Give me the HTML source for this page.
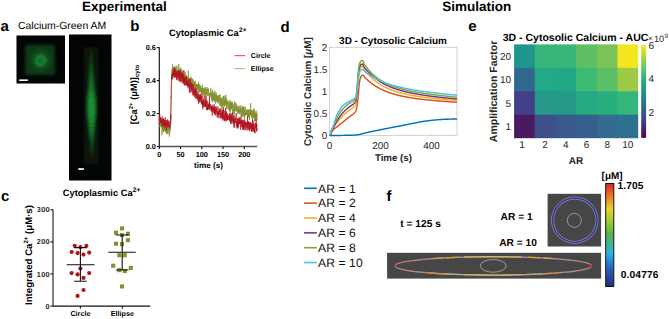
<!DOCTYPE html>
<html><head><meta charset="utf-8"><style>
html,body{margin:0;padding:0;background:#fff;width:669px;height:319px;overflow:hidden;}
svg{display:block;font-family:"Liberation Sans", sans-serif;text-rendering:geometricPrecision;}
</style></head><body>
<svg width="669" height="319" viewBox="0 0 669 319" font-family='&quot;Liberation Sans&quot;, sans-serif'><defs>
<filter id="blur1" x="-50%" y="-50%" width="200%" height="200%"><feGaussianBlur stdDeviation="1.5"/></filter>
<filter id="blur08" x="-50%" y="-50%" width="200%" height="200%"><feGaussianBlur stdDeviation="1"/></filter>
<filter id="grain" x="0" y="0" width="100%" height="100%"><feTurbulence type="fractalNoise" baseFrequency="0.9" numOctaves="1" seed="4" result="n"/><feColorMatrix in="n" type="matrix" values="0 0 0 0 0  0 0 0 0 0  0 0 0 0 0  0 0 0 2.2 -0.9" result="a"/><feComposite in="SourceGraphic" in2="a" operator="in"/></filter>
<filter id="blur2" x="-50%" y="-50%" width="200%" height="200%"><feGaussianBlur stdDeviation="2.5"/></filter>
</defs><text x="81.9" y="11.1" font-size="13.5" font-weight="bold" text-anchor="start" fill="#000" >Experimental</text>
<text x="442.2" y="11.1" font-size="13.5" font-weight="bold" text-anchor="start" fill="#000" >Simulation</text>
<text x="0.6" y="31" font-size="15" font-weight="bold" text-anchor="start" fill="#000" >a</text>
<text x="130.2" y="31" font-size="15" font-weight="bold" text-anchor="start" fill="#000" >b</text>
<text x="0.9" y="201.4" font-size="15" font-weight="bold" text-anchor="start" fill="#000" >c</text>
<text x="280.5" y="31.5" font-size="15" font-weight="bold" text-anchor="start" fill="#000" >d</text>
<text x="468.2" y="31" font-size="15" font-weight="bold" text-anchor="start" fill="#000" >e</text>
<text x="386.6" y="201" font-size="15" font-weight="bold" text-anchor="start" fill="#000" >f</text>
<text x="18.0" y="28.5" font-size="10.45" font-weight="normal" text-anchor="start" fill="#000" >Calcium-Green AM</text>
<rect x="16.5" y="35.5" width="48.5" height="48" fill="#030604"/>
<rect x="25" y="44.5" width="30" height="30.7" rx="3" fill="#0d3d18" filter="url(#blur1)"/>
<ellipse cx="40.5" cy="60" rx="10" ry="10.5" fill="#135421" filter="url(#blur2)"/>
<circle cx="40.6" cy="60.7" r="4.6" fill="#177230" stroke="#1d8a38" stroke-width="3" filter="url(#blur08)"/>
<rect x="16.5" y="35.5" width="48.5" height="48" fill="#000" opacity="0.35" filter="url(#grain)"/>
<rect x="19.2" y="79.4" width="8.6" height="1.6" fill="#fff"/>
<rect x="69" y="34.5" width="42.5" height="146" fill="#030604"/>
<rect x="84" y="47" width="14.5" height="117" fill="#07140a" filter="url(#blur1)"/>
<defs><linearGradient id="spg" x1="0" y1="0" x2="0" y2="1"><stop offset="0" stop-color="#0c3e16"/><stop offset="0.3" stop-color="#137026"/><stop offset="0.5" stop-color="#1a8e32"/><stop offset="0.68" stop-color="#178a2e"/><stop offset="0.85" stop-color="#0f5a1e"/><stop offset="1" stop-color="#0a3a12"/></linearGradient></defs>
<path d="M91,45 C92.3,65 95.4,90 95.6,108 C95.6,125 93.3,145 92,161 C90.5,145 87.6,125 87.4,108 C87.6,90 89.7,65 91,45 Z" fill="url(#spg)" filter="url(#blur1)"/>
<ellipse cx="91.6" cy="106" rx="3.2" ry="15" fill="#21a03e" opacity="0.7" filter="url(#blur2)"/>
<rect x="69" y="34.5" width="42.5" height="146" fill="#000" opacity="0.3" filter="url(#grain)"/>
<rect x="78.3" y="168.2" width="5.6" height="1.7" fill="#fff"/>
<text x="169.0" y="36" font-size="9.3" font-weight="bold" text-anchor="start" fill="#000" >Cytoplasmic Ca<tspan font-size="6.7" dy="-3.8" dx="0.3">2+</tspan></text>
<path d="M159.3,146.5 H257.3" stroke="#555" stroke-width="1.5" fill="none"/>
<path d="M159.3,47.30 V147.1" stroke="#111" stroke-width="1.15" fill="none"/>
<path d="M156.8,146.50 H159.3" stroke="#111" stroke-width="1.1"/>
<text x="155.9" y="149.1" font-size="7.35" font-weight="bold" text-anchor="end" fill="#000" >0.0</text>
<path d="M156.8,113.53 H159.3" stroke="#111" stroke-width="1.1"/>
<text x="155.9" y="116.13333333333333" font-size="7.35" font-weight="bold" text-anchor="end" fill="#000" >0.2</text>
<path d="M156.8,80.57 H159.3" stroke="#111" stroke-width="1.1"/>
<text x="155.9" y="83.16666666666666" font-size="7.35" font-weight="bold" text-anchor="end" fill="#000" >0.4</text>
<path d="M156.8,47.60 H159.3" stroke="#111" stroke-width="1.1"/>
<text x="155.9" y="50.199999999999996" font-size="7.35" font-weight="bold" text-anchor="end" fill="#000" >0.6</text>
<path d="M159.30,146.5 V149.1" stroke="#111" stroke-width="1.1"/>
<text x="159.3" y="157.1" font-size="7.3" font-weight="bold" text-anchor="middle" fill="#000" >0</text>
<path d="M180.55,146.5 V149.1" stroke="#111" stroke-width="1.1"/>
<text x="180.55" y="157.1" font-size="7.3" font-weight="bold" text-anchor="middle" fill="#000" >50</text>
<path d="M201.80,146.5 V149.1" stroke="#111" stroke-width="1.1"/>
<text x="201.8" y="157.1" font-size="7.3" font-weight="bold" text-anchor="middle" fill="#000" >100</text>
<path d="M223.05,146.5 V149.1" stroke="#111" stroke-width="1.1"/>
<text x="223.05" y="157.1" font-size="7.3" font-weight="bold" text-anchor="middle" fill="#000" >150</text>
<path d="M244.30,146.5 V149.1" stroke="#111" stroke-width="1.1"/>
<text x="244.3" y="157.1" font-size="7.3" font-weight="bold" text-anchor="middle" fill="#000" >200</text>
<text x="208.5" y="167.8" font-size="8.15" font-weight="bold" text-anchor="middle" fill="#000" >time (s)</text>
<text transform="translate(136.6,94.5) rotate(-90)" font-size="9.3" font-weight="bold" text-anchor="middle">[Ca<tspan font-size="6" dy="-3.5">2+</tspan><tspan dy="3.5"> (μM)]</tspan><tspan font-size="6" dy="2.3">cyto</tspan></text>
<polyline points="159.30,120.52 159.41,118.98 159.51,120.95 159.62,127.05 159.73,119.22 159.83,121.06 159.94,124.80 160.04,120.91 160.15,121.86 160.26,122.28 160.36,123.40 160.47,121.67 160.58,126.47 160.68,124.54 160.79,125.84 160.89,122.06 161.00,124.23 161.11,125.57 161.21,127.48 161.32,125.70 161.43,124.86 161.53,126.02 161.64,120.44 161.74,121.60 161.85,135.20 161.96,132.33 162.06,126.22 162.17,127.22 162.28,125.02 162.38,125.11 162.49,118.31 162.59,130.12 162.70,127.55 162.81,118.86 162.91,124.01 163.02,124.04 163.12,128.39 163.23,132.58 163.34,126.08 163.44,126.36 163.55,131.28 163.66,129.38 163.76,127.23 163.87,130.46 163.98,127.46 164.08,126.82 164.19,127.10 164.29,129.12 164.40,125.19 164.51,124.16 164.61,126.28 164.72,130.46 164.83,124.89 164.93,129.41 165.04,124.45 165.14,131.57 165.25,124.40 165.36,127.83 165.46,132.33 165.57,128.97 165.68,127.67 165.78,126.91 165.89,131.50 165.99,131.98 166.10,127.27 166.21,129.71 166.31,127.19 166.42,125.32 166.53,134.07 166.63,127.19 166.74,123.70 166.84,129.24 166.95,131.12 167.06,125.47 167.16,127.29 167.27,124.98 167.38,129.49 167.48,133.63 167.59,128.66 167.69,129.89 167.80,125.48 167.91,127.59 168.01,134.22 168.12,132.65 168.23,125.12 168.33,125.86 168.44,130.66 168.54,128.34 168.65,126.73 168.76,126.65 168.86,125.17 168.97,127.43 169.08,128.70 169.18,129.30 169.29,124.53 169.39,136.53 169.50,128.87 169.61,128.25 169.71,133.54 169.82,127.16 169.93,130.73 170.03,125.24 170.14,128.82 170.24,125.94 170.35,124.75 170.46,126.04 170.56,126.52 170.67,123.58 170.78,107.93 170.88,106.87 170.99,101.82 171.09,92.90 171.20,88.23 171.31,80.72 171.41,80.47 171.52,78.92 171.62,79.61 171.73,74.76 171.84,78.05 171.94,72.01 172.05,68.68 172.16,77.17 172.26,79.64 172.37,70.31 172.48,64.41 172.58,74.78 172.69,75.37 172.79,69.78 172.90,73.89 173.01,72.78 173.11,72.21 173.22,69.50 173.33,72.19 173.43,70.09 173.54,71.38 173.64,73.30 173.75,71.70 173.86,73.54 173.96,70.68 174.07,74.02 174.18,73.92 174.28,66.36 174.39,70.84 174.49,70.85 174.60,69.19 174.71,71.97 174.81,71.41 174.92,69.50 175.03,69.94 175.13,74.25 175.24,68.36 175.34,72.62 175.45,74.03 175.56,73.61 175.66,72.13 175.77,66.19 175.88,74.54 175.98,70.62 176.09,77.49 176.19,71.19 176.30,68.57 176.41,71.99 176.51,73.21 176.62,70.70 176.73,69.36 176.83,69.53 176.94,65.70 177.04,70.98 177.15,73.42 177.26,72.09 177.36,71.99 177.47,71.51 177.58,71.97 177.68,71.42 177.79,76.95 177.89,69.59 178.00,73.81 178.11,75.64 178.21,70.33 178.32,68.36 178.43,70.86 178.53,71.90 178.64,75.20 178.74,63.97 178.85,69.93 178.96,75.99 179.06,74.98 179.17,72.47 179.28,77.40 179.38,72.35 179.49,74.28 179.59,69.35 179.70,70.20 179.81,81.16 179.91,73.06 180.02,78.06 180.12,70.04 180.23,72.90 180.34,71.85 180.44,76.71 180.55,68.20 180.66,67.71 180.76,76.93 180.87,72.75 180.98,75.93 181.08,74.08 181.19,77.84 181.29,68.63 181.40,77.12 181.51,75.21 181.61,72.92 181.72,76.41 181.83,75.28 181.93,76.33 182.04,75.14 182.14,78.30 182.25,76.21 182.36,75.61 182.46,76.07 182.57,74.99 182.68,76.12 182.78,73.10 182.89,76.38 182.99,75.91 183.10,77.56 183.21,77.24 183.31,79.51 183.42,74.31 183.53,79.32 183.63,78.23 183.74,75.04 183.84,74.99 183.95,77.46 184.06,82.35 184.16,75.19 184.27,75.76 184.38,80.80 184.48,74.41 184.59,78.86 184.69,80.20 184.80,76.66 184.91,77.56 185.01,76.51 185.12,81.95 185.23,71.89 185.33,79.14 185.44,82.00 185.54,75.68 185.65,78.65 185.76,76.71 185.86,78.77 185.97,78.02 186.08,77.19 186.18,80.22 186.29,76.08 186.39,79.57 186.50,80.84 186.61,78.11 186.71,77.10 186.82,79.19 186.93,81.15 187.03,76.84 187.14,83.99 187.24,81.91 187.35,78.82 187.46,83.06 187.56,79.02 187.67,79.36 187.78,76.61 187.88,82.08 187.99,81.31 188.09,78.55 188.20,86.92 188.31,70.52 188.41,81.88 188.52,82.06 188.62,77.42 188.73,80.18 188.84,85.43 188.94,78.38 189.05,77.79 189.16,81.76 189.26,81.34 189.37,79.16 189.48,83.38 189.58,79.47 189.69,80.27 189.79,82.96 189.90,85.17 190.01,81.80 190.11,83.82 190.22,78.34 190.33,80.97 190.43,79.17 190.54,81.18 190.64,80.89 190.75,84.08 190.86,79.87 190.96,76.64 191.07,82.95 191.18,83.88 191.28,82.68 191.39,83.73 191.49,84.47 191.60,82.07 191.71,83.43 191.81,78.39 191.92,82.75 192.03,81.88 192.13,80.10 192.24,83.91 192.34,78.84 192.45,85.07 192.56,85.68 192.66,84.46 192.77,83.80 192.88,87.71 192.98,83.75 193.09,88.68 193.19,79.69 193.30,84.15 193.41,85.90 193.51,86.78 193.62,85.32 193.73,84.93 193.83,87.45 193.94,87.17 194.04,85.08 194.15,86.16 194.26,81.92 194.36,81.42 194.47,84.83 194.58,83.56 194.68,89.02 194.79,83.25 194.89,85.32 195.00,83.88 195.11,80.65 195.21,92.25 195.32,84.80 195.43,88.92 195.53,83.99 195.64,89.73 195.74,87.38 195.85,85.40 195.96,84.26 196.06,85.95 196.17,88.60 196.28,87.98 196.38,83.80 196.49,86.52 196.59,91.58 196.70,84.17 196.81,85.52 196.91,84.24 197.02,87.91 197.12,84.54 197.23,90.23 197.34,85.47 197.44,88.70 197.55,85.32 197.66,84.42 197.76,89.66 197.87,87.71 197.98,87.52 198.08,84.19 198.19,85.69 198.29,91.49 198.40,86.59 198.51,85.82 198.61,81.80 198.72,93.16 198.83,89.85 198.93,84.38 199.04,92.43 199.14,92.04 199.25,87.02 199.36,85.61 199.46,90.69 199.57,87.18 199.68,88.50 199.78,84.42 199.89,89.00 199.99,86.13 200.10,91.82 200.21,89.76 200.31,89.57 200.42,85.97 200.53,87.70 200.63,91.72 200.74,87.53 200.84,87.34 200.95,90.03 201.06,90.53 201.16,90.41 201.27,94.93 201.38,89.41 201.48,89.34 201.59,92.67 201.69,87.97 201.80,94.31 201.91,91.94 202.01,91.78 202.12,84.54 202.23,95.25 202.33,88.90 202.44,87.84 202.54,89.58 202.65,87.26 202.76,93.80 202.86,97.66 202.97,88.68 203.08,94.57 203.18,92.06 203.29,94.65 203.39,88.09 203.50,88.71 203.61,93.48 203.71,88.73 203.82,91.11 203.93,91.95 204.03,91.42 204.14,92.26 204.24,89.90 204.35,90.86 204.46,92.88 204.56,88.92 204.67,93.78 204.78,91.18 204.88,90.84 204.99,87.77 205.09,93.71 205.20,87.10 205.31,91.81 205.41,92.97 205.52,94.45 205.62,90.78 205.73,92.43 205.84,95.91 205.94,96.05 206.05,94.41 206.16,94.82 206.26,89.64 206.37,88.86 206.48,90.42 206.58,92.00 206.69,94.39 206.79,93.01 206.90,90.61 207.01,86.97 207.11,90.64 207.22,94.24 207.33,93.36 207.43,94.96 207.54,95.91 207.64,94.19 207.75,93.12 207.86,88.32 207.96,93.67 208.07,89.85 208.18,88.69 208.28,93.76 208.39,89.28 208.49,91.99 208.60,95.41 208.71,93.44 208.81,94.22 208.92,95.03 209.03,94.99 209.13,94.03 209.24,93.23 209.34,97.20 209.45,94.66 209.56,99.20 209.66,93.97 209.77,92.95 209.88,94.37 209.98,94.07 210.09,93.22 210.19,97.00 210.30,95.80 210.41,93.63 210.51,92.23 210.62,94.09 210.73,87.74 210.83,95.64 210.94,92.46 211.04,91.73 211.15,95.94 211.26,98.03 211.36,99.16 211.47,95.23 211.58,92.48 211.68,95.02 211.79,95.37 211.89,97.07 212.00,94.33 212.11,102.39 212.21,95.42 212.32,96.09 212.43,100.29 212.53,89.83 212.64,100.46 212.74,99.59 212.85,100.02 212.96,93.22 213.06,99.20 213.17,94.64 213.28,94.94 213.38,95.97 213.49,100.67 213.59,98.66 213.70,91.94 213.81,100.79 213.91,99.48 214.02,97.55 214.12,94.73 214.23,96.44 214.34,95.04 214.44,100.46 214.55,94.55 214.66,95.72 214.76,102.19 214.87,92.95 214.98,90.77 215.08,99.90 215.19,97.51 215.29,93.59 215.40,102.18 215.51,103.75 215.61,101.75 215.72,99.63 215.83,99.72 215.93,96.26 216.04,97.32 216.14,101.87 216.25,96.54 216.36,92.72 216.46,94.78 216.57,95.44 216.68,98.38 216.78,95.57 216.89,101.41 216.99,96.37 217.10,98.91 217.21,95.35 217.31,97.38 217.42,102.05 217.53,98.49 217.63,95.31 217.74,102.33 217.84,100.69 217.95,101.36 218.06,103.57 218.16,96.34 218.27,95.35 218.38,96.92 218.48,98.63 218.59,99.55 218.69,98.74 218.80,101.68 218.91,96.91 219.01,96.51 219.12,96.90 219.23,101.29 219.33,99.54 219.44,100.31 219.54,94.57 219.65,99.40 219.76,105.57 219.86,98.85 219.97,94.50 220.08,98.11 220.18,97.58 220.29,100.14 220.39,106.15 220.50,105.72 220.61,104.10 220.71,100.83 220.82,99.59 220.93,98.51 221.03,101.62 221.14,97.82 221.24,101.55 221.35,102.86 221.46,98.29 221.56,103.59 221.67,109.02 221.78,104.12 221.88,100.75 221.99,110.22 222.09,102.19 222.20,102.17 222.31,105.47 222.41,105.69 222.52,102.72 222.62,103.02 222.73,97.71 222.84,100.39 222.94,106.24 223.05,104.14 223.16,99.57 223.26,96.08 223.37,100.62 223.48,100.89 223.58,96.35 223.69,101.99 223.79,102.89 223.90,106.22 224.01,103.60 224.11,95.66 224.22,106.40 224.33,102.20 224.43,106.46 224.54,101.96 224.64,99.76 224.75,103.17 224.86,100.33 224.96,100.41 225.07,101.28 225.18,97.56 225.28,100.40 225.39,103.66 225.49,104.83 225.60,105.37 225.71,101.51 225.81,103.93 225.92,94.93 226.03,97.61 226.13,103.77 226.24,104.16 226.34,98.22 226.45,108.88 226.56,104.68 226.66,100.58 226.77,106.16 226.88,104.92 226.98,104.60 227.09,101.65 227.19,103.26 227.30,102.53 227.41,102.01 227.51,103.74 227.62,100.59 227.73,106.10 227.83,108.25 227.94,109.31 228.04,108.91 228.15,105.78 228.26,101.15 228.36,103.74 228.47,106.09 228.58,107.54 228.68,105.99 228.79,105.67 228.89,106.20 229.00,108.83 229.11,106.05 229.21,101.67 229.32,111.20 229.43,105.51 229.53,111.15 229.64,104.36 229.74,107.18 229.85,111.20 229.96,104.77 230.06,99.73 230.17,104.85 230.28,101.78 230.38,105.50 230.49,111.74 230.59,103.94 230.70,106.69 230.81,109.84 230.91,103.23 231.02,104.76 231.12,107.22 231.23,103.14 231.34,108.36 231.44,103.91 231.55,108.67 231.66,104.35 231.76,109.25 231.87,101.62 231.98,105.34 232.08,101.89 232.19,108.64 232.29,107.66 232.40,103.81 232.51,114.50 232.61,109.58 232.72,103.40 232.83,105.14 232.93,103.67 233.04,107.54 233.14,105.00 233.25,108.90 233.36,110.85 233.46,111.86 233.57,108.52 233.68,108.57 233.78,108.86 233.89,117.57 233.99,113.03 234.10,108.73 234.21,106.35 234.31,108.97 234.42,109.91 234.53,114.21 234.63,101.41 234.74,110.73 234.84,102.52 234.95,102.94 235.06,106.81 235.16,109.37 235.27,107.33 235.38,111.19 235.48,107.05 235.59,107.87 235.69,106.35 235.80,105.16 235.91,102.89 236.01,109.23 236.12,105.03 236.23,110.53 236.33,110.88 236.44,110.11 236.54,111.24 236.65,105.47 236.76,105.69 236.86,104.70 236.97,108.60 237.08,107.76 237.18,110.34 237.29,112.09 237.39,107.40 237.50,107.98 237.61,112.11 237.71,107.14 237.82,114.09 237.93,109.50 238.03,110.89 238.14,110.64 238.24,112.33 238.35,106.34 238.46,107.53 238.56,105.75 238.67,108.92 238.78,113.20 238.88,110.52 238.99,112.98 239.09,108.17 239.20,105.98 239.31,108.65 239.41,111.45 239.52,110.82 239.62,109.16 239.73,114.10 239.84,109.42 239.94,109.32 240.05,111.57 240.16,111.24 240.26,109.54 240.37,112.53 240.48,112.58 240.58,107.88 240.69,109.57 240.79,105.30 240.90,113.26 241.01,115.66 241.11,107.63 241.22,107.63 241.33,112.71 241.43,114.92 241.54,110.75 241.64,115.85 241.75,111.72 241.86,117.23 241.96,111.51 242.07,117.14 242.18,111.60 242.28,106.44 242.39,111.78 242.49,108.75 242.60,112.99 242.71,113.78 242.81,115.62 242.92,108.13 243.03,111.44 243.13,106.50 243.24,114.86 243.34,112.07 243.45,111.22 243.56,107.31 243.66,106.14 243.77,113.52 243.88,115.00 243.98,116.84 244.09,107.76 244.19,112.03 244.30,113.74 244.41,112.02 244.51,119.50 244.62,117.07 244.73,109.22 244.83,110.86 244.94,111.64 245.04,115.10 245.15,110.42 245.26,106.93 245.36,115.89 245.47,112.25 245.58,113.63 245.68,111.31 245.79,112.38 245.89,112.90 246.00,115.13 246.11,112.60 246.21,114.42 246.32,113.07 246.43,112.87 246.53,110.78 246.64,114.49 246.74,113.76 246.85,109.66 246.96,113.53 247.06,113.70 247.17,110.40 247.28,112.20 247.38,112.78 247.49,112.44 247.59,116.81 247.70,111.80 247.81,109.27 247.91,111.52 248.02,117.90 248.12,112.48 248.23,116.04 248.34,114.07 248.44,113.05 248.55,117.01 248.66,109.54 248.76,113.75 248.87,111.23 248.98,111.74 249.08,109.67 249.19,110.16 249.29,118.11 249.40,113.64 249.51,120.14 249.61,115.17 249.72,111.76 249.83,111.21 249.93,110.13 250.04,115.11 250.14,113.08 250.25,113.78 250.36,110.35 250.46,109.43 250.57,115.25 250.68,102.99 250.78,114.27 250.89,115.39 250.99,112.56 251.10,112.12 251.21,112.79 251.31,116.37 251.42,110.11 251.53,114.36 251.63,109.99 251.74,110.45 251.84,118.40 251.95,117.56 252.06,117.66 252.16,113.99 252.27,114.60 252.38,114.00 252.48,117.24 252.59,113.60 252.69,110.74 252.80,118.90 252.91,115.56 253.01,114.27 253.12,115.43 253.23,115.67 253.33,109.87 253.44,111.35 253.54,112.67 253.65,117.48 253.76,108.61 253.86,114.23 253.97,117.05 254.08,116.37 254.18,116.86 254.29,109.15 254.39,114.86 254.50,115.32 254.61,121.93 254.71,113.39 254.82,118.75 254.93,119.00 255.03,113.87 255.14,118.28 255.24,113.28 255.35,112.46 255.46,121.13 255.56,116.26 255.67,120.56 255.78,116.11 255.88,113.26 255.99,120.05 256.09,110.69 256.20,116.99 256.31,119.62 256.41,116.51 256.52,113.83 256.62,120.30 256.73,116.24 256.84,120.36 256.94,112.74 257.05,115.89" fill="none" stroke="#84902e" stroke-width="0.7" stroke-linejoin="round"/>
<polyline points="159.30,117.98 159.41,120.02 159.51,119.89 159.62,125.39 159.73,114.36 159.83,116.24 159.94,120.26 160.04,117.51 160.15,118.95 160.26,121.29 160.36,117.38 160.47,120.91 160.58,121.09 160.68,122.44 160.79,119.28 160.89,120.86 161.00,119.28 161.11,122.43 161.21,120.61 161.32,123.41 161.43,118.95 161.53,120.78 161.64,120.50 161.74,120.40 161.85,124.24 161.96,119.61 162.06,116.34 162.17,126.18 162.28,126.51 162.38,126.00 162.49,119.90 162.59,121.86 162.70,119.44 162.81,120.46 162.91,121.88 163.02,121.76 163.12,123.03 163.23,120.37 163.34,125.70 163.44,123.90 163.55,122.21 163.66,118.17 163.76,124.99 163.87,125.88 163.98,124.58 164.08,120.59 164.19,123.82 164.29,119.76 164.40,128.24 164.51,120.37 164.61,120.67 164.72,127.18 164.83,123.08 164.93,120.32 165.04,123.33 165.14,120.97 165.25,117.38 165.36,122.96 165.46,124.45 165.57,125.78 165.68,122.07 165.78,124.32 165.89,124.31 165.99,124.14 166.10,122.17 166.21,126.73 166.31,127.97 166.42,130.38 166.53,120.82 166.63,123.81 166.74,120.04 166.84,124.06 166.95,126.01 167.06,122.81 167.16,124.29 167.27,127.41 167.38,126.45 167.48,119.47 167.59,123.21 167.69,123.05 167.80,124.89 167.91,125.99 168.01,121.83 168.12,124.46 168.23,126.20 168.33,124.56 168.44,126.60 168.54,123.71 168.65,121.24 168.76,126.43 168.86,120.46 168.97,125.99 169.08,123.83 169.18,126.44 169.29,124.83 169.39,124.12 169.50,125.39 169.61,126.10 169.71,126.03 169.82,126.41 169.93,128.39 170.03,124.94 170.14,123.19 170.24,121.85 170.35,122.54 170.46,117.77 170.56,123.30 170.67,124.49 170.78,114.54 170.88,118.68 170.99,107.16 171.09,106.75 171.20,96.63 171.31,97.61 171.41,83.98 171.52,83.24 171.62,83.44 171.73,74.43 171.84,76.10 171.94,77.31 172.05,78.85 172.16,76.10 172.26,75.92 172.37,72.89 172.48,72.43 172.58,76.62 172.69,76.11 172.79,75.91 172.90,78.20 173.01,75.83 173.11,74.23 173.22,71.79 173.33,69.82 173.43,76.04 173.54,71.92 173.64,74.80 173.75,67.25 173.86,73.49 173.96,71.81 174.07,76.03 174.18,75.62 174.28,72.59 174.39,74.30 174.49,72.10 174.60,77.78 174.71,71.19 174.81,75.83 174.92,68.06 175.03,74.04 175.13,69.95 175.24,77.36 175.34,71.98 175.45,75.91 175.56,74.76 175.66,73.27 175.77,74.33 175.88,72.64 175.98,71.25 176.09,71.58 176.19,73.82 176.30,77.66 176.41,76.05 176.51,74.30 176.62,80.07 176.73,71.60 176.83,74.60 176.94,74.70 177.04,71.20 177.15,72.09 177.26,73.48 177.36,77.16 177.47,73.33 177.58,73.29 177.68,77.00 177.79,71.35 177.89,73.00 178.00,80.41 178.11,74.26 178.21,78.43 178.32,71.37 178.43,72.40 178.53,78.13 178.64,77.54 178.74,74.67 178.85,75.74 178.96,70.56 179.06,72.95 179.17,76.04 179.28,73.55 179.38,81.36 179.49,74.47 179.59,72.88 179.70,76.05 179.81,77.69 179.91,73.97 180.02,69.90 180.12,75.17 180.23,79.17 180.34,71.62 180.44,81.55 180.55,74.56 180.66,77.85 180.76,73.43 180.87,78.78 180.98,72.40 181.08,75.51 181.19,81.60 181.29,82.41 181.40,77.56 181.51,72.86 181.61,76.40 181.72,76.65 181.83,77.63 181.93,74.82 182.04,75.96 182.14,76.33 182.25,80.16 182.36,73.80 182.46,73.36 182.57,81.34 182.68,70.74 182.78,75.50 182.89,79.18 182.99,83.47 183.10,75.95 183.21,76.33 183.31,79.84 183.42,83.47 183.53,74.91 183.63,80.08 183.74,79.82 183.84,70.07 183.95,72.29 184.06,75.87 184.16,80.14 184.27,76.95 184.38,85.74 184.48,78.75 184.59,81.42 184.69,83.07 184.80,84.05 184.91,77.89 185.01,79.28 185.12,79.17 185.23,77.24 185.33,82.35 185.44,83.61 185.54,85.32 185.65,81.15 185.76,78.01 185.86,80.82 185.97,78.59 186.08,84.11 186.18,82.11 186.29,83.11 186.39,84.66 186.50,75.57 186.61,78.68 186.71,83.59 186.82,83.73 186.93,81.76 187.03,86.00 187.14,80.56 187.24,85.83 187.35,83.22 187.46,85.30 187.56,83.82 187.67,86.48 187.78,87.34 187.88,85.68 187.99,84.98 188.09,83.98 188.20,83.04 188.31,78.86 188.41,81.13 188.52,84.44 188.62,81.68 188.73,86.03 188.84,79.84 188.94,82.65 189.05,88.46 189.16,82.35 189.26,82.32 189.37,92.86 189.48,87.26 189.58,86.60 189.69,91.07 189.79,88.67 189.90,88.47 190.01,84.31 190.11,85.08 190.22,78.33 190.33,87.45 190.43,83.01 190.54,86.36 190.64,85.94 190.75,90.34 190.86,92.72 190.96,89.49 191.07,85.10 191.18,82.82 191.28,85.88 191.39,86.35 191.49,90.47 191.60,83.58 191.71,84.29 191.81,90.01 191.92,88.72 192.03,91.69 192.13,84.53 192.24,87.82 192.34,89.46 192.45,88.12 192.56,88.16 192.66,90.83 192.77,93.44 192.88,93.71 192.98,95.20 193.09,88.81 193.19,83.74 193.30,95.50 193.41,90.18 193.51,89.51 193.62,93.79 193.73,90.40 193.83,94.40 193.94,87.73 194.04,93.19 194.15,91.27 194.26,89.68 194.36,93.13 194.47,97.31 194.58,93.72 194.68,90.02 194.79,92.68 194.89,91.89 195.00,95.92 195.11,92.43 195.21,90.84 195.32,93.03 195.43,87.63 195.53,94.05 195.64,96.66 195.74,98.52 195.85,90.44 195.96,94.18 196.06,91.15 196.17,92.93 196.28,89.61 196.38,90.82 196.49,95.84 196.59,94.05 196.70,91.78 196.81,98.81 196.91,90.98 197.02,91.82 197.12,92.64 197.23,96.29 197.34,94.94 197.44,99.29 197.55,95.94 197.66,97.99 197.76,96.12 197.87,97.98 197.98,95.81 198.08,93.28 198.19,100.80 198.29,94.30 198.40,103.09 198.51,103.72 198.61,97.79 198.72,97.54 198.83,96.37 198.93,102.70 199.04,98.11 199.14,97.68 199.25,94.45 199.36,98.61 199.46,96.85 199.57,101.43 199.68,99.21 199.78,100.09 199.89,96.79 199.99,101.92 200.10,101.57 200.21,97.50 200.31,94.00 200.42,98.28 200.53,98.62 200.63,100.65 200.74,96.50 200.84,98.23 200.95,94.79 201.06,99.05 201.16,102.94 201.27,101.92 201.38,103.26 201.48,104.14 201.59,96.77 201.69,98.22 201.80,104.39 201.91,95.53 202.01,100.18 202.12,103.84 202.23,99.95 202.33,101.39 202.44,103.57 202.54,107.14 202.65,101.36 202.76,100.69 202.86,109.30 202.97,100.10 203.08,100.00 203.18,103.32 203.29,101.68 203.39,102.93 203.50,104.67 203.61,103.35 203.71,98.35 203.82,106.76 203.93,101.84 204.03,102.08 204.14,104.81 204.24,104.10 204.35,107.04 204.46,105.50 204.56,103.01 204.67,102.17 204.78,105.89 204.88,94.24 204.99,105.08 205.09,103.09 205.20,104.24 205.31,104.82 205.41,99.85 205.52,105.22 205.62,99.92 205.73,100.57 205.84,107.14 205.94,101.04 206.05,106.13 206.16,96.16 206.26,105.50 206.37,107.22 206.48,110.18 206.58,108.43 206.69,106.39 206.79,107.71 206.90,108.47 207.01,106.96 207.11,105.59 207.22,100.75 207.33,110.18 207.43,106.84 207.54,108.11 207.64,109.85 207.75,109.19 207.86,108.19 207.96,103.45 208.07,106.23 208.18,107.32 208.28,103.99 208.39,105.04 208.49,106.61 208.60,104.88 208.71,108.55 208.81,104.31 208.92,104.86 209.03,107.54 209.13,110.01 209.24,101.95 209.34,106.25 209.45,97.55 209.56,108.62 209.66,104.22 209.77,108.11 209.88,106.14 209.98,104.49 210.09,109.41 210.19,107.40 210.30,106.70 210.41,106.91 210.51,105.55 210.62,104.35 210.73,104.99 210.83,106.75 210.94,108.63 211.04,111.03 211.15,109.93 211.26,109.38 211.36,105.86 211.47,109.03 211.58,111.71 211.68,106.24 211.79,110.55 211.89,110.51 212.00,108.98 212.11,106.97 212.21,115.61 212.32,111.85 212.43,108.07 212.53,109.74 212.64,111.29 212.74,110.40 212.85,104.76 212.96,110.29 213.06,106.89 213.17,106.73 213.28,110.48 213.38,107.90 213.49,110.62 213.59,111.16 213.70,112.76 213.81,106.89 213.91,110.74 214.02,111.26 214.12,113.04 214.23,104.39 214.34,107.63 214.44,110.29 214.55,112.03 214.66,114.57 214.76,109.23 214.87,109.31 214.98,114.41 215.08,106.85 215.19,108.06 215.29,113.29 215.40,112.15 215.51,111.83 215.61,110.15 215.72,111.13 215.83,115.62 215.93,106.45 216.04,109.95 216.14,107.22 216.25,107.30 216.36,111.71 216.46,110.14 216.57,109.03 216.68,109.00 216.78,111.83 216.89,113.25 216.99,111.37 217.10,113.92 217.21,113.25 217.31,117.69 217.42,111.48 217.53,114.84 217.63,113.51 217.74,112.08 217.84,111.05 217.95,106.44 218.06,111.50 218.16,116.37 218.27,111.85 218.38,114.06 218.48,111.17 218.59,114.46 218.69,114.59 218.80,114.06 218.91,114.47 219.01,118.08 219.12,114.71 219.23,112.83 219.33,109.29 219.44,113.78 219.54,114.08 219.65,111.31 219.76,111.50 219.86,108.41 219.97,111.48 220.08,113.33 220.18,109.37 220.29,108.86 220.39,114.87 220.50,113.05 220.61,118.56 220.71,114.72 220.82,116.32 220.93,114.39 221.03,115.24 221.14,114.36 221.24,114.24 221.35,112.52 221.46,113.36 221.56,115.77 221.67,117.99 221.78,110.56 221.88,110.07 221.99,115.68 222.09,112.73 222.20,118.98 222.31,119.14 222.41,115.37 222.52,110.26 222.62,117.79 222.73,117.21 222.84,110.02 222.94,120.47 223.05,112.99 223.16,113.52 223.26,115.63 223.37,114.52 223.48,107.35 223.58,118.53 223.69,116.17 223.79,116.00 223.90,117.40 224.01,119.39 224.11,110.74 224.22,114.86 224.33,120.79 224.43,117.71 224.54,114.48 224.64,114.54 224.75,120.06 224.86,116.12 224.96,115.12 225.07,114.79 225.18,114.84 225.28,121.47 225.39,110.63 225.49,115.54 225.60,110.86 225.71,107.78 225.81,116.80 225.92,120.04 226.03,113.87 226.13,117.02 226.24,117.88 226.34,119.66 226.45,111.64 226.56,118.01 226.66,120.90 226.77,118.13 226.88,120.29 226.98,116.44 227.09,118.20 227.19,120.15 227.30,115.28 227.41,119.02 227.51,115.02 227.62,113.48 227.73,118.34 227.83,119.24 227.94,116.78 228.04,114.78 228.15,117.48 228.26,117.11 228.36,117.66 228.47,116.71 228.58,115.82 228.68,119.83 228.79,119.21 228.89,117.70 229.00,119.86 229.11,117.53 229.21,116.39 229.32,118.10 229.43,119.88 229.53,120.44 229.64,112.99 229.74,115.63 229.85,121.61 229.96,120.83 230.06,112.83 230.17,113.95 230.28,118.10 230.38,115.10 230.49,123.00 230.59,118.63 230.70,116.48 230.81,124.25 230.91,121.10 231.02,116.51 231.12,115.52 231.23,120.69 231.34,118.11 231.44,114.27 231.55,120.20 231.66,123.08 231.76,119.35 231.87,120.38 231.98,115.40 232.08,118.84 232.19,121.74 232.29,112.29 232.40,120.94 232.51,118.10 232.61,117.54 232.72,117.27 232.83,119.13 232.93,117.95 233.04,119.94 233.14,124.00 233.25,120.48 233.36,120.47 233.46,120.45 233.57,119.57 233.68,121.87 233.78,116.14 233.89,115.46 233.99,126.69 234.10,120.18 234.21,122.36 234.31,128.03 234.42,119.12 234.53,122.22 234.63,121.55 234.74,122.41 234.84,117.30 234.95,116.89 235.06,119.79 235.16,118.60 235.27,121.04 235.38,120.33 235.48,122.99 235.59,120.73 235.69,123.00 235.80,119.82 235.91,118.51 236.01,120.09 236.12,117.54 236.23,113.12 236.33,127.39 236.44,121.15 236.54,122.92 236.65,122.63 236.76,125.35 236.86,121.20 236.97,122.17 237.08,123.32 237.18,122.24 237.29,123.29 237.39,128.53 237.50,118.42 237.61,122.56 237.71,124.52 237.82,120.83 237.93,123.75 238.03,128.28 238.14,119.24 238.24,126.88 238.35,122.60 238.46,121.64 238.56,118.03 238.67,118.54 238.78,121.62 238.88,124.42 238.99,123.43 239.09,119.01 239.20,116.98 239.31,120.71 239.41,124.27 239.52,119.35 239.62,123.55 239.73,123.69 239.84,123.35 239.94,120.81 240.05,121.78 240.16,119.69 240.26,118.83 240.37,121.19 240.48,129.68 240.58,127.83 240.69,122.36 240.79,123.07 240.90,116.51 241.01,123.04 241.11,123.44 241.22,120.23 241.33,119.91 241.43,123.81 241.54,121.74 241.64,126.55 241.75,126.02 241.86,119.60 241.96,127.48 242.07,120.60 242.18,121.37 242.28,121.13 242.39,120.75 242.49,121.82 242.60,129.88 242.71,126.55 242.81,125.39 242.92,120.93 243.03,127.03 243.13,125.81 243.24,124.84 243.34,119.89 243.45,128.11 243.56,127.89 243.66,122.05 243.77,130.25 243.88,123.00 243.98,125.37 244.09,128.74 244.19,125.34 244.30,127.11 244.41,123.67 244.51,123.13 244.62,119.83 244.73,124.32 244.83,124.02 244.94,126.07 245.04,124.46 245.15,121.31 245.26,130.18 245.36,122.54 245.47,126.12 245.58,124.35 245.68,123.64 245.79,122.12 245.89,123.97 246.00,125.88 246.11,123.83 246.21,124.75 246.32,125.43 246.43,124.25 246.53,122.30 246.64,124.52 246.74,124.51 246.85,128.82 246.96,125.42 247.06,130.59 247.17,122.97 247.28,127.93 247.38,121.34 247.49,116.33 247.59,126.43 247.70,121.34 247.81,124.12 247.91,127.01 248.02,127.88 248.12,123.76 248.23,121.32 248.34,124.44 248.44,130.01 248.55,128.65 248.66,126.27 248.76,121.60 248.87,124.82 248.98,124.73 249.08,122.14 249.19,126.37 249.29,126.06 249.40,126.37 249.51,131.14 249.61,124.51 249.72,124.71 249.83,123.07 249.93,129.52 250.04,128.45 250.14,123.29 250.25,125.14 250.36,122.05 250.46,128.72 250.57,125.60 250.68,128.23 250.78,125.34 250.89,127.73 250.99,124.73 251.10,123.15 251.21,124.39 251.31,131.79 251.42,123.66 251.53,125.16 251.63,129.61 251.74,129.18 251.84,126.56 251.95,124.91 252.06,127.98 252.16,131.49 252.27,125.87 252.38,126.23 252.48,119.52 252.59,130.62 252.69,119.34 252.80,121.68 252.91,125.99 253.01,122.00 253.12,126.67 253.23,124.08 253.33,129.19 253.44,126.81 253.54,130.08 253.65,131.78 253.76,127.94 253.86,129.12 253.97,125.49 254.08,123.45 254.18,127.75 254.29,127.11 254.39,126.75 254.50,132.32 254.61,126.57 254.71,127.36 254.82,127.56 254.93,130.72 255.03,133.36 255.14,128.26 255.24,126.60 255.35,123.59 255.46,124.24 255.56,123.31 255.67,126.56 255.78,124.25 255.88,128.32 255.99,125.87 256.09,125.00 256.20,119.82 256.31,127.10 256.41,131.63 256.52,123.79 256.62,130.25 256.73,128.11 256.84,128.83 256.94,130.68 257.05,124.05" fill="none" stroke="#b2161f" stroke-width="0.7" stroke-linejoin="round"/>
<path d="M234.5,55.7 H245.2" stroke="#cc4856" stroke-width="1"/>
<path d="M234.5,68.6 H245.2" stroke="#adb46e" stroke-width="1"/>
<text x="250.8" y="58.2" font-size="7.1" font-weight="bold" text-anchor="start" fill="#000" >Circle</text>
<text x="250.8" y="71.1" font-size="7.1" font-weight="bold" text-anchor="start" fill="#000" >Ellipse</text>
<text x="62.8" y="196.1" font-size="9.3" font-weight="bold" text-anchor="start" fill="#000" >Cytoplasmic Ca<tspan font-size="6.7" dy="-3.8" dx="0.3">2+</tspan></text>
<path d="M53.0,209.41 V306.1" stroke="#555" stroke-width="1.5" fill="none"/>
<path d="M53.0,306.1 H150.3" stroke="#111" stroke-width="1.1" fill="none"/>
<path d="M50.5,306.10 H53.0" stroke="#111" stroke-width="1.1"/>
<text x="49.8" y="308.70000000000005" font-size="7.3" font-weight="bold" text-anchor="end" fill="#2a2a2a" letter-spacing="0.25">0</text>
<path d="M50.5,273.97 H53.0" stroke="#111" stroke-width="1.1"/>
<text x="49.8" y="276.57000000000005" font-size="7.3" font-weight="bold" text-anchor="end" fill="#2a2a2a" letter-spacing="0.25">100</text>
<path d="M50.5,241.84 H53.0" stroke="#111" stroke-width="1.1"/>
<text x="49.8" y="244.44000000000003" font-size="7.3" font-weight="bold" text-anchor="end" fill="#2a2a2a" letter-spacing="0.25">200</text>
<path d="M50.5,209.71 H53.0" stroke="#111" stroke-width="1.1"/>
<text x="49.8" y="212.31000000000003" font-size="7.3" font-weight="bold" text-anchor="end" fill="#2a2a2a" letter-spacing="0.25">300</text>
<path d="M80.4,306.1 V308.70000000000005" stroke="#111" stroke-width="1.1"/>
<text x="80.4" y="316.0" font-size="7.2" font-weight="bold" text-anchor="middle" fill="#000" >Circle</text>
<path d="M122.3,306.1 V308.70000000000005" stroke="#111" stroke-width="1.1"/>
<text x="122.3" y="316.0" font-size="7.2" font-weight="bold" text-anchor="middle" fill="#000" >Ellipse</text>
<text transform="translate(31.6,255) rotate(-90)" font-size="9.6" font-weight="bold" text-anchor="middle">Integrated Ca<tspan font-size="6.2" dy="-3.6">2+</tspan><tspan dy="3.6"> (μM·s)</tspan></text>
<circle cx="74.7" cy="245.8" r="2.1" fill="#b5121c"/>
<circle cx="80.4" cy="247.1" r="2.1" fill="#b5121c"/>
<circle cx="86.4" cy="245.8" r="2.1" fill="#b5121c"/>
<circle cx="71.6" cy="252" r="2.1" fill="#b5121c"/>
<circle cx="77.6" cy="253.1" r="2.1" fill="#b5121c"/>
<circle cx="83.5" cy="254.6" r="2.1" fill="#b5121c"/>
<circle cx="89.2" cy="252.6" r="2.1" fill="#b5121c"/>
<circle cx="80.4" cy="268.5" r="2.1" fill="#b5121c"/>
<circle cx="71.6" cy="273.1" r="2.1" fill="#b5121c"/>
<circle cx="77.6" cy="274.4" r="2.1" fill="#b5121c"/>
<circle cx="89.2" cy="273.1" r="2.1" fill="#b5121c"/>
<circle cx="83.5" cy="277.9" r="2.1" fill="#b5121c"/>
<circle cx="83.5" cy="290" r="2.1" fill="#b5121c"/>
<circle cx="77.6" cy="295.9" r="2.1" fill="#b5121c"/>
<path d="M66.6,264.7 H94.5 M80.4,247.6 V281.2 M74.1,247.6 H86.7 M74.1,281.2 H86.7" stroke="#111" stroke-width="1.1" fill="none"/>
<rect x="119.95" y="226.35" width="4.1" height="4.1" fill="#878f2e"/>
<rect x="113.95" y="230.64999999999998" width="4.1" height="4.1" fill="#878f2e"/>
<rect x="119.95" y="232.95" width="4.1" height="4.1" fill="#878f2e"/>
<rect x="125.85000000000001" y="231.75" width="4.1" height="4.1" fill="#878f2e"/>
<rect x="125.85000000000001" y="238.14999999999998" width="4.1" height="4.1" fill="#878f2e"/>
<rect x="113.95" y="241.64999999999998" width="4.1" height="4.1" fill="#878f2e"/>
<rect x="119.95" y="242.14999999999998" width="4.1" height="4.1" fill="#878f2e"/>
<rect x="117.25" y="253.14999999999998" width="4.1" height="4.1" fill="#878f2e"/>
<rect x="122.75" y="253.14999999999998" width="4.1" height="4.1" fill="#878f2e"/>
<rect x="111.15" y="263.65" width="4.1" height="4.1" fill="#878f2e"/>
<rect x="117.25" y="268.05" width="4.1" height="4.1" fill="#878f2e"/>
<rect x="122.75" y="268.95" width="4.1" height="4.1" fill="#878f2e"/>
<rect x="128.75" y="265.84999999999997" width="4.1" height="4.1" fill="#878f2e"/>
<rect x="119.95" y="284.34999999999997" width="4.1" height="4.1" fill="#878f2e"/>
<path d="M108.4,252.3 H135.8 M122.2,235 V270 M115.9,235 H128.5 M115.9,270 H128.5" stroke="#111" stroke-width="1.1" fill="none"/>
<text x="339.1" y="44" font-size="9.96" font-weight="bold" text-anchor="start" fill="#000" >3D - Cytosolic Calcium</text>
<rect x="329.6" y="47.3" width="127.39999999999998" height="88.3" fill="none" stroke="#c8c8c8" stroke-width="0.8"/>
<path d="M329.6,135.60 h1.3 M457.0,135.60 h-1.3" stroke="#c8c8c8" stroke-width="0.8"/>
<text x="327.20000000000005" y="139.2" font-size="9.9" font-weight="normal" text-anchor="end" fill="#262626" >0</text>
<path d="M329.6,113.52 h1.3 M457.0,113.52 h-1.3" stroke="#c8c8c8" stroke-width="0.8"/>
<text x="327.20000000000005" y="117.12499999999999" font-size="9.9" font-weight="normal" text-anchor="end" fill="#262626" >0.5</text>
<path d="M329.6,91.45 h1.3 M457.0,91.45 h-1.3" stroke="#c8c8c8" stroke-width="0.8"/>
<text x="327.20000000000005" y="95.04999999999998" font-size="9.9" font-weight="normal" text-anchor="end" fill="#262626" >1</text>
<path d="M329.6,69.38 h1.3 M457.0,69.38 h-1.3" stroke="#c8c8c8" stroke-width="0.8"/>
<text x="327.20000000000005" y="72.975" font-size="9.9" font-weight="normal" text-anchor="end" fill="#262626" >1.5</text>
<path d="M329.6,47.30 h1.3 M457.0,47.30 h-1.3" stroke="#c8c8c8" stroke-width="0.8"/>
<text x="327.20000000000005" y="50.9" font-size="9.9" font-weight="normal" text-anchor="end" fill="#262626" >2</text>
<path d="M329.60,135.6 v-1.3 M329.60,47.3 v1.3" stroke="#c8c8c8" stroke-width="0.8"/>
<text x="329.6" y="148.6" font-size="9.9" font-weight="normal" text-anchor="middle" fill="#262626" >0</text>
<path d="M380.56,135.6 v-1.3 M380.56,47.3 v1.3" stroke="#c8c8c8" stroke-width="0.8"/>
<text x="380.56" y="148.6" font-size="9.9" font-weight="normal" text-anchor="middle" fill="#262626" >200</text>
<path d="M431.52,135.6 v-1.3 M431.52,47.3 v1.3" stroke="#c8c8c8" stroke-width="0.8"/>
<text x="431.52" y="148.6" font-size="9.9" font-weight="normal" text-anchor="middle" fill="#262626" >400</text>
<text x="393.4" y="160.7" font-size="9.7" font-weight="bold" text-anchor="middle" fill="#262626" >Time (s)</text>
<text transform="translate(310.6,91.6) rotate(-90)" font-size="9.85" font-weight="bold" text-anchor="middle" fill="#262626">Cytosolic Calcium [<tspan font-style="italic">μ</tspan>M]</text>
<polyline points="330.36,135.60 330.49,135.08 330.62,134.56 330.75,134.10 330.87,133.73 331.00,133.42 331.13,133.13 331.26,132.86 331.38,132.60 331.51,132.35 331.64,132.12 331.77,131.89 331.89,131.68 332.02,131.48 332.15,131.29 332.28,131.10 332.40,130.93 332.53,130.76 332.66,130.59 332.79,130.44 332.91,130.28 333.04,130.13 333.17,129.98 333.29,129.84 333.42,129.70 333.55,129.57 333.68,129.44 333.80,129.31 333.93,129.19 334.06,129.07 334.19,128.96 334.31,128.85 334.44,128.74 334.57,128.63 334.70,128.53 334.82,128.42 334.95,128.32 335.08,128.22 335.21,128.12 335.33,128.03 335.46,127.93 335.59,127.83 335.72,127.74 335.84,127.64 335.97,127.55 336.10,127.45 336.22,127.35 336.35,127.25 336.48,127.15 336.61,127.05 336.73,126.94 336.86,126.84 336.99,126.73 337.12,126.63 337.24,126.52 337.37,126.42 337.50,126.31 337.63,126.21 337.75,126.10 337.88,126.00 338.01,125.90 338.14,125.79 338.26,125.69 338.39,125.59 338.52,125.49 338.65,125.38 338.77,125.28 338.90,125.18 339.03,125.08 339.16,124.97 339.28,124.87 339.41,124.77 339.54,124.67 339.66,124.57 339.79,124.47 339.92,124.36 340.05,124.26 340.17,124.16 340.30,124.06 340.43,123.96 340.56,123.86 340.68,123.76 340.81,123.65 340.94,123.55 341.07,123.45 341.19,123.35 341.32,123.25 341.45,123.15 341.58,123.05 341.70,122.95 341.83,122.84 341.96,122.74 342.09,122.64 342.21,122.54 342.34,122.44 342.47,122.33 342.59,122.23 342.72,122.13 342.85,122.03 342.98,121.93 343.10,121.82 343.23,121.72 343.36,121.62 343.49,121.52 343.61,121.41 343.74,121.31 343.87,121.21 344.00,121.11 344.12,121.00 344.25,120.90 344.38,120.80 344.51,120.70 344.63,120.60 344.76,120.49 344.89,120.39 345.02,120.29 345.14,120.19 345.27,120.08 345.40,119.98 345.53,119.88 345.65,119.78 345.78,119.67 345.91,119.57 346.03,119.47 346.16,119.37 346.29,119.26 346.42,119.16 346.54,119.06 346.67,118.96 346.80,118.85 346.93,118.75 347.05,118.65 347.18,118.55 347.31,118.45 347.44,118.34 347.56,118.24 347.69,118.14 347.82,118.04 347.95,117.93 348.07,117.83 348.20,117.73 348.33,117.63 348.46,117.52 348.58,117.42 348.71,117.32 348.84,117.22 348.96,117.11 349.09,117.01 349.22,116.91 349.35,116.82 349.47,116.72 349.60,116.63 349.73,116.53 349.86,116.44 349.98,116.35 350.11,116.26 350.24,116.18 350.37,116.09 350.49,116.00 350.62,115.92 350.75,115.83 350.88,115.75 351.00,115.66 351.13,115.58 351.26,115.49 351.39,115.41 351.51,115.32 351.64,115.23 351.77,115.15 351.90,115.06 352.02,114.97 352.15,114.88 352.28,114.79 352.40,114.70 352.53,114.60 352.66,114.51 352.79,114.41 352.91,114.31 353.04,114.21 353.17,114.11 353.30,114.00 353.42,113.89 353.55,113.78 353.68,113.67 353.81,113.55 353.93,113.43 354.06,113.31 354.19,113.18 354.32,113.05 354.44,112.92 354.57,112.79 354.70,112.65 354.83,112.50 354.95,112.35 355.08,112.20 355.21,112.04 355.33,111.86 355.46,111.65 355.59,111.43 355.72,111.17 355.84,110.88 355.97,110.54 356.10,110.15 356.23,109.71 356.35,109.21 356.48,108.67 356.61,108.08 356.74,107.45 356.86,106.77 356.99,106.05 357.12,105.29 357.25,104.49 357.37,103.65 357.50,102.78 357.63,101.87 357.76,100.93 357.88,99.96 358.01,98.81 358.14,97.39 358.27,95.77 358.39,94.05 358.52,92.30 358.65,90.61 358.77,89.05 358.90,87.72 359.03,86.54 359.16,85.37 359.28,84.25 359.41,83.19 359.54,82.20 359.67,81.32 359.79,80.56 359.92,79.94 360.05,79.40 360.18,78.90 360.30,78.43 360.43,77.99 360.56,77.59 360.69,77.23 360.81,76.91 360.94,76.63 361.07,76.40 361.20,76.23 361.32,76.08 361.45,75.93 361.58,75.80 361.70,75.67 361.83,75.55 361.96,75.44 362.09,75.35 362.21,75.27 362.34,75.20 362.47,75.15 362.60,75.12 362.72,75.11 362.85,75.13 362.98,75.16 363.11,75.21 363.23,75.28 363.36,75.36 363.49,75.45 363.62,75.54 363.74,75.64 363.87,75.78 364.00,75.96 364.13,76.18 364.25,76.42 364.38,76.67 364.51,76.91 364.63,77.13 364.76,77.32 364.89,77.47 365.02,77.62 365.14,77.76 365.27,77.89 365.40,78.01 365.53,78.14 365.65,78.25 365.78,78.37 365.91,78.49 366.04,78.60 366.16,78.72 366.29,78.84 366.42,78.96 366.55,79.08 366.67,79.20 366.80,79.32 366.93,79.44 367.06,79.56 367.18,79.68 367.31,79.80 367.44,79.91 367.57,80.03 367.69,80.14 367.82,80.26 367.95,80.37 368.07,80.48 368.20,80.60 368.33,80.71 368.46,80.82 368.58,80.93 368.71,81.04 368.84,81.15 368.97,81.26 369.09,81.36 369.22,81.47 369.35,81.58 369.48,81.68 369.60,81.79 369.73,81.89 369.86,82.00 369.99,82.10 370.11,82.21 370.24,82.31 370.37,82.41 370.50,82.51 370.62,82.61 370.75,82.71 370.88,82.81 371.00,82.91 371.13,83.01 371.26,83.11 371.39,83.20 371.51,83.30 371.64,83.40 371.77,83.49 371.90,83.59 372.02,83.68 372.15,83.77 372.28,83.87 372.41,83.96 372.53,84.05 372.66,84.14 372.79,84.24 372.92,84.33 373.04,84.42 373.17,84.51 373.30,84.60 373.43,84.68 373.55,84.77 373.68,84.86 373.81,84.95 373.94,85.03 374.06,85.12 374.19,85.20 374.32,85.29 374.44,85.37 374.57,85.46 374.70,85.54 374.83,85.63 374.95,85.71 375.08,85.79 375.21,85.87 375.34,85.95 375.46,86.04 375.59,86.12 375.72,86.20 375.85,86.28 375.97,86.35 376.10,86.43 376.23,86.51 376.36,86.59 376.48,86.67 376.61,86.74 376.74,86.82 376.87,86.90 376.99,86.97 377.12,87.05 377.25,87.12 377.38,87.20 377.50,87.27 377.63,87.34 377.76,87.42 377.88,87.49 378.01,87.56 378.14,87.63 378.27,87.70 378.39,87.78 378.52,87.85 378.65,87.92 378.78,87.99 378.90,88.06 379.03,88.12 379.16,88.19 379.29,88.26 379.41,88.33 379.54,88.40 379.67,88.46 379.80,88.53 379.92,88.60 380.05,88.66 380.18,88.73 380.31,88.80 380.43,88.86 380.56,88.93 380.69,88.99 380.81,89.05 380.94,89.12 381.07,89.18 381.20,89.24 381.32,89.31 381.45,89.37 381.58,89.43 381.71,89.49 381.83,89.55 381.96,89.61 382.09,89.67 382.22,89.73 382.34,89.79 382.47,89.85 382.60,89.91 382.73,89.97 382.85,90.03 382.98,90.09 383.11,90.15 383.24,90.20 383.36,90.26 383.49,90.32 383.62,90.38 383.75,90.43 383.87,90.49 384.00,90.54 384.13,90.60 384.25,90.65 384.38,90.71 384.51,90.76 384.64,90.82 384.76,90.87 384.89,90.93 385.02,90.98 385.15,91.03 385.27,91.09 385.40,91.14 385.53,91.19 385.66,91.24 385.78,91.29 385.91,91.35 386.04,91.40 386.17,91.45 386.29,91.50 386.42,91.55 386.55,91.60 386.68,91.65 386.80,91.70 386.93,91.75 387.06,91.80 387.18,91.85 387.31,91.90 387.44,91.94 387.57,91.99 387.69,92.04 387.82,92.09 387.95,92.13 388.08,92.18 388.20,92.23 388.33,92.27 388.46,92.32 388.59,92.37 388.71,92.41 388.84,92.46 388.97,92.50 389.10,92.55 389.22,92.59 389.35,92.64 389.48,92.68 389.61,92.73 389.73,92.77 389.86,92.82 389.99,92.86 390.12,92.90 390.24,92.95 390.37,92.99 390.50,93.03 390.62,93.07 390.75,93.12 390.88,93.16 391.01,93.20 391.13,93.24 391.26,93.28 391.39,93.32 391.52,93.36 391.64,93.41 391.77,93.45 391.90,93.49 392.03,93.53 392.15,93.57 392.28,93.61 392.41,93.65 392.54,93.68 392.66,93.72 392.79,93.76 392.92,93.80 393.05,93.84 393.17,93.88 393.30,93.92 393.43,93.95 393.55,93.99 393.68,94.03 393.81,94.07 393.94,94.10 394.06,94.14 394.19,94.18 394.32,94.22 394.45,94.25 394.57,94.29 394.70,94.32 394.83,94.36 394.96,94.40 395.08,94.43 395.21,94.47 395.34,94.50 395.47,94.54 395.59,94.57 395.72,94.61 395.85,94.64 395.98,94.68 396.10,94.71 396.23,94.74 396.36,94.78 396.49,94.81 396.61,94.85 396.74,94.88 396.87,94.91 396.99,94.95 397.12,94.98 397.25,95.01 397.38,95.04 397.50,95.08 397.63,95.11 397.76,95.14 397.89,95.17 398.01,95.20 398.14,95.24 398.27,95.27 398.40,95.30 398.52,95.33 398.65,95.36 398.78,95.39 398.91,95.42 399.03,95.45 399.16,95.48 399.29,95.51 399.42,95.55 399.54,95.58 399.67,95.61 399.80,95.63 399.92,95.66 400.05,95.69 400.18,95.72 400.31,95.75 400.43,95.78 400.56,95.81 400.69,95.84 400.82,95.87 400.94,95.90 401.07,95.93 401.20,95.95 401.33,95.98 401.45,96.01 401.58,96.04 401.71,96.07 401.84,96.09 401.96,96.12 402.09,96.15 402.22,96.18 402.35,96.20 402.47,96.23 402.60,96.26 402.73,96.28 402.86,96.31 402.98,96.34 403.11,96.36 403.24,96.39 403.36,96.42 403.49,96.44 403.62,96.47 403.75,96.50 403.87,96.52 404.00,96.55 404.13,96.57 404.26,96.60 404.38,96.62 404.51,96.65 404.64,96.67 404.77,96.70 404.89,96.72 405.02,96.75 405.15,96.77 405.28,96.80 405.40,96.82 405.53,96.85 405.66,96.87 405.79,96.89 405.91,96.92 406.04,96.94 406.17,96.97 406.29,96.99 406.42,97.01 406.55,97.04 406.68,97.06 406.80,97.08 406.93,97.11 407.06,97.13 407.19,97.15 407.31,97.18 407.44,97.20 407.57,97.22 407.70,97.25 407.82,97.27 407.95,97.29 408.08,97.31 408.21,97.34 408.33,97.36 408.46,97.38 408.59,97.40 408.72,97.42 408.84,97.45 408.97,97.47 409.10,97.49 409.23,97.51 409.35,97.53 409.48,97.55 409.61,97.57 409.73,97.60 409.86,97.62 409.99,97.64 410.12,97.66 410.24,97.68 410.37,97.70 410.50,97.72 410.63,97.74 410.75,97.76 410.88,97.78 411.01,97.80 411.14,97.82 411.26,97.84 411.39,97.86 411.52,97.88 411.65,97.90 411.77,97.92 411.90,97.94 412.03,97.96 412.16,97.98 412.28,98.00 412.41,98.02 412.54,98.04 412.66,98.06 412.79,98.08 412.92,98.10 413.05,98.12 413.17,98.14 413.30,98.16 413.43,98.18 413.56,98.20 413.68,98.22 413.81,98.23 413.94,98.25 414.07,98.27 414.19,98.29 414.32,98.31 414.45,98.33 414.58,98.35 414.70,98.36 414.83,98.38 414.96,98.40 415.09,98.42 415.21,98.44 415.34,98.45 415.47,98.47 415.60,98.49 415.72,98.51 415.85,98.53 415.98,98.54 416.10,98.56 416.23,98.58 416.36,98.60 416.49,98.61 416.61,98.63 416.74,98.65 416.87,98.66 417.00,98.68 417.12,98.70 417.25,98.72 417.38,98.73 417.51,98.75 417.63,98.77 417.76,98.78 417.89,98.80 418.02,98.82 418.14,98.83 418.27,98.85 418.40,98.87 418.53,98.88 418.65,98.90 418.78,98.92 418.91,98.93 419.03,98.95 419.16,98.96 419.29,98.98 419.42,99.00 419.54,99.01 419.67,99.03 419.80,99.04 419.93,99.06 420.05,99.08 420.18,99.09 420.31,99.11 420.44,99.12 420.56,99.14 420.69,99.15 420.82,99.17 420.95,99.19 421.07,99.20 421.20,99.22 421.33,99.23 421.46,99.25 421.58,99.26 421.71,99.28 421.84,99.29 421.97,99.31 422.09,99.32 422.22,99.34 422.35,99.35 422.47,99.37 422.60,99.38 422.73,99.40 422.86,99.41 422.98,99.43 423.11,99.44 423.24,99.45 423.37,99.47 423.49,99.48 423.62,99.50 423.75,99.51 423.88,99.53 424.00,99.54 424.13,99.56 424.26,99.57 424.39,99.58 424.51,99.60 424.64,99.61 424.77,99.63 424.90,99.64 425.02,99.65 425.15,99.67 425.28,99.68 425.40,99.70 425.53,99.71 425.66,99.72 425.79,99.74 425.91,99.75 426.04,99.77 426.17,99.78 426.30,99.79 426.42,99.81 426.55,99.82 426.68,99.83 426.81,99.85 426.93,99.86 427.06,99.87 427.19,99.89 427.32,99.90 427.44,99.91 427.57,99.93 427.70,99.94 427.83,99.95 427.95,99.97 428.08,99.98 428.21,99.99 428.34,100.00 428.46,100.02 428.59,100.03 428.72,100.04 428.84,100.06 428.97,100.07 429.10,100.08 429.23,100.10 429.35,100.11 429.48,100.12 429.61,100.13 429.74,100.15 429.86,100.16 429.99,100.17 430.12,100.18 430.25,100.20 430.37,100.21 430.50,100.22 430.63,100.23 430.76,100.25 430.88,100.26 431.01,100.27 431.14,100.28 431.27,100.30 431.39,100.31 431.52,100.32 431.65,100.33 431.77,100.34 431.90,100.36 432.03,100.37 432.16,100.38 432.28,100.39 432.41,100.40 432.54,100.42 432.67,100.43 432.79,100.44 432.92,100.45 433.05,100.46 433.18,100.48 433.30,100.49 433.43,100.50 433.56,100.51 433.69,100.52 433.81,100.53 433.94,100.55 434.07,100.56 434.20,100.57 434.32,100.58 434.45,100.59 434.58,100.60 434.71,100.62 434.83,100.63 434.96,100.64 435.09,100.65 435.21,100.66 435.34,100.67 435.47,100.68 435.60,100.69 435.72,100.71 435.85,100.72 435.98,100.73 436.11,100.74 436.23,100.75 436.36,100.76 436.49,100.77 436.62,100.78 436.74,100.80 436.87,100.81 437.00,100.82 437.13,100.83 437.25,100.84 437.38,100.85 437.51,100.86 437.64,100.87 437.76,100.88 437.89,100.89 438.02,100.91 438.14,100.92 438.27,100.93 438.40,100.94 438.53,100.95 438.65,100.96 438.78,100.97 438.91,100.98 439.04,100.99 439.16,101.00 439.29,101.01 439.42,101.02 439.55,101.03 439.67,101.04 439.80,101.06 439.93,101.07 440.06,101.08 440.18,101.09 440.31,101.10 440.44,101.11 440.57,101.12 440.69,101.13 440.82,101.14 440.95,101.15 441.07,101.16 441.20,101.17 441.33,101.18 441.46,101.19 441.58,101.20 441.71,101.21 441.84,101.22 441.97,101.23 442.09,101.24 442.22,101.25 442.35,101.26 442.48,101.27 442.60,101.28 442.73,101.29 442.86,101.30 442.99,101.31 443.11,101.32 443.24,101.33 443.37,101.34 443.50,101.35 443.62,101.36 443.75,101.37 443.88,101.38 444.01,101.39 444.13,101.40 444.26,101.41 444.39,101.42 444.51,101.43 444.64,101.44 444.77,101.45 444.90,101.46 445.02,101.47 445.15,101.48 445.28,101.49 445.41,101.50 445.53,101.51 445.66,101.52 445.79,101.53 445.92,101.54 446.04,101.55 446.17,101.56 446.30,101.57 446.43,101.58 446.55,101.59 446.68,101.60 446.81,101.61 446.94,101.62 447.06,101.63 447.19,101.64 447.32,101.65 447.44,101.66 447.57,101.67 447.70,101.67 447.83,101.68 447.95,101.69 448.08,101.70 448.21,101.71 448.34,101.72 448.46,101.73 448.59,101.74 448.72,101.75 448.85,101.76 448.97,101.77 449.10,101.78 449.23,101.79 449.36,101.80 449.48,101.81 449.61,101.82 449.74,101.82 449.87,101.83 449.99,101.84 450.12,101.85 450.25,101.86 450.38,101.87 450.50,101.88 450.63,101.89 450.76,101.90 450.88,101.91 451.01,101.92 451.14,101.93 451.27,101.94 451.39,101.94 451.52,101.95 451.65,101.96 451.78,101.97 451.90,101.98 452.03,101.99 452.16,102.00 452.29,102.01 452.41,102.02 452.54,102.03 452.67,102.03 452.80,102.04 452.92,102.05 453.05,102.06 453.18,102.07 453.31,102.08 453.43,102.09 453.56,102.10 453.69,102.11 453.81,102.12 453.94,102.12 454.07,102.13 454.20,102.14 454.32,102.15 454.45,102.16 454.58,102.17 454.71,102.18 454.83,102.19 454.96,102.19 455.09,102.20 455.22,102.21 455.34,102.22 455.47,102.23 455.60,102.24 455.73,102.25 455.85,102.26 455.98,102.26 456.11,102.27 456.24,102.28 456.36,102.29 456.49,102.30 456.62,102.31 456.75,102.32 456.87,102.33 457.00,102.33" fill="none" stroke="#D95319" stroke-width="1.45" stroke-linejoin="round"/>
<polyline points="330.36,135.60 330.49,134.75 330.62,133.91 330.75,133.17 330.87,132.60 331.00,132.16 331.13,131.74 331.26,131.36 331.38,131.00 331.51,130.66 331.64,130.34 331.77,130.04 331.89,129.76 332.02,129.49 332.15,129.24 332.28,129.00 332.40,128.77 332.53,128.55 332.66,128.33 332.79,128.12 332.91,127.91 333.04,127.70 333.17,127.49 333.29,127.29 333.42,127.09 333.55,126.89 333.68,126.71 333.80,126.52 333.93,126.34 334.06,126.17 334.19,126.00 334.31,125.84 334.44,125.67 334.57,125.51 334.70,125.36 334.82,125.21 334.95,125.05 335.08,124.91 335.21,124.76 335.33,124.61 335.46,124.47 335.59,124.32 335.72,124.18 335.84,124.03 335.97,123.89 336.10,123.74 336.22,123.60 336.35,123.45 336.48,123.30 336.61,123.15 336.73,122.99 336.86,122.83 336.99,122.68 337.12,122.52 337.24,122.36 337.37,122.21 337.50,122.05 337.63,121.89 337.75,121.73 337.88,121.58 338.01,121.42 338.14,121.26 338.26,121.10 338.39,120.95 338.52,120.79 338.65,120.63 338.77,120.47 338.90,120.32 339.03,120.16 339.16,120.00 339.28,119.85 339.41,119.69 339.54,119.53 339.66,119.38 339.79,119.23 339.92,119.07 340.05,118.92 340.17,118.77 340.30,118.61 340.43,118.46 340.56,118.31 340.68,118.16 340.81,118.01 340.94,117.87 341.07,117.72 341.19,117.57 341.32,117.43 341.45,117.29 341.58,117.14 341.70,117.00 341.83,116.86 341.96,116.72 342.09,116.58 342.21,116.45 342.34,116.31 342.47,116.18 342.59,116.05 342.72,115.91 342.85,115.79 342.98,115.66 343.10,115.53 343.23,115.40 343.36,115.28 343.49,115.15 343.61,115.03 343.74,114.91 343.87,114.79 344.00,114.67 344.12,114.55 344.25,114.43 344.38,114.31 344.51,114.19 344.63,114.08 344.76,113.96 344.89,113.85 345.02,113.73 345.14,113.62 345.27,113.50 345.40,113.39 345.53,113.28 345.65,113.17 345.78,113.06 345.91,112.95 346.03,112.84 346.16,112.73 346.29,112.62 346.42,112.51 346.54,112.40 346.67,112.29 346.80,112.19 346.93,112.08 347.05,111.97 347.18,111.86 347.31,111.76 347.44,111.65 347.56,111.55 347.69,111.44 347.82,111.33 347.95,111.23 348.07,111.12 348.20,111.02 348.33,110.91 348.46,110.80 348.58,110.70 348.71,110.59 348.84,110.49 348.96,110.38 349.09,110.28 349.22,110.17 349.35,110.08 349.47,109.98 349.60,109.88 349.73,109.79 349.86,109.70 349.98,109.61 350.11,109.52 350.24,109.43 350.37,109.34 350.49,109.26 350.62,109.17 350.75,109.09 350.88,109.01 351.00,108.93 351.13,108.84 351.26,108.76 351.39,108.68 351.51,108.60 351.64,108.51 351.77,108.43 351.90,108.34 352.02,108.26 352.15,108.17 352.28,108.09 352.40,108.00 352.53,107.91 352.66,107.82 352.79,107.72 352.91,107.63 353.04,107.53 353.17,107.43 353.30,107.33 353.42,107.23 353.55,107.12 353.68,107.01 353.81,106.90 353.93,106.78 354.06,106.66 354.19,106.54 354.32,106.42 354.44,106.29 354.57,106.15 354.70,106.02 354.83,105.87 354.95,105.73 355.08,105.58 355.21,105.42 355.33,105.26 355.46,105.06 355.59,104.84 355.72,104.57 355.84,104.25 355.97,103.77 356.10,103.03 356.23,102.08 356.35,100.96 356.48,99.70 356.61,98.34 356.74,96.91 356.86,95.45 356.99,94.01 357.12,92.61 357.25,91.15 357.37,89.52 357.50,87.80 357.63,86.02 357.76,84.27 357.88,82.58 358.01,81.02 358.14,79.64 358.27,78.39 358.39,77.15 358.52,75.96 358.65,74.84 358.77,73.80 358.90,72.86 359.03,72.05 359.16,71.39 359.28,70.83 359.41,70.29 359.54,69.79 359.67,69.33 359.79,68.90 359.92,68.52 360.05,68.18 360.18,67.89 360.30,67.65 360.43,67.46 360.56,67.31 360.69,67.15 360.81,67.01 360.94,66.87 361.07,66.75 361.20,66.63 361.32,66.53 361.45,66.45 361.58,66.38 361.70,66.33 361.83,66.30 361.96,66.28 362.09,66.30 362.21,66.33 362.34,66.38 362.47,66.44 362.60,66.52 362.72,66.61 362.85,66.71 362.98,66.81 363.11,66.98 363.23,67.23 363.36,67.54 363.49,67.89 363.62,68.26 363.74,68.61 363.87,68.93 364.00,69.19 364.13,69.40 364.25,69.59 364.38,69.78 364.51,69.95 364.63,70.11 364.76,70.27 364.89,70.42 365.02,70.57 365.14,70.72 365.27,70.87 365.40,71.03 365.53,71.18 365.65,71.34 365.78,71.50 365.91,71.66 366.04,71.82 366.16,71.97 366.29,72.13 366.42,72.28 366.55,72.43 366.67,72.58 366.80,72.73 366.93,72.88 367.06,73.03 367.18,73.18 367.31,73.33 367.44,73.48 367.57,73.62 367.69,73.76 367.82,73.91 367.95,74.05 368.07,74.19 368.20,74.33 368.33,74.47 368.46,74.61 368.58,74.75 368.71,74.89 368.84,75.03 368.97,75.16 369.09,75.30 369.22,75.43 369.35,75.56 369.48,75.70 369.60,75.83 369.73,75.96 369.86,76.09 369.99,76.22 370.11,76.35 370.24,76.47 370.37,76.60 370.50,76.73 370.62,76.85 370.75,76.98 370.88,77.10 371.00,77.22 371.13,77.35 371.26,77.47 371.39,77.59 371.51,77.71 371.64,77.83 371.77,77.95 371.90,78.06 372.02,78.18 372.15,78.30 372.28,78.41 372.41,78.53 372.53,78.64 372.66,78.76 372.79,78.87 372.92,78.98 373.04,79.09 373.17,79.21 373.30,79.32 373.43,79.42 373.55,79.53 373.68,79.64 373.81,79.75 373.94,79.86 374.06,79.96 374.19,80.07 374.32,80.17 374.44,80.28 374.57,80.38 374.70,80.49 374.83,80.59 374.95,80.69 375.08,80.79 375.21,80.89 375.34,80.99 375.46,81.09 375.59,81.19 375.72,81.29 375.85,81.39 375.97,81.48 376.10,81.58 376.23,81.68 376.36,81.77 376.48,81.87 376.61,81.96 376.74,82.06 376.87,82.15 376.99,82.24 377.12,82.33 377.25,82.43 377.38,82.52 377.50,82.61 377.63,82.70 377.76,82.79 377.88,82.88 378.01,82.96 378.14,83.05 378.27,83.14 378.39,83.23 378.52,83.31 378.65,83.40 378.78,83.48 378.90,83.57 379.03,83.65 379.16,83.74 379.29,83.82 379.41,83.90 379.54,83.99 379.67,84.07 379.80,84.15 379.92,84.23 380.05,84.31 380.18,84.39 380.31,84.47 380.43,84.55 380.56,84.63 380.69,84.71 380.81,84.78 380.94,84.86 381.07,84.94 381.20,85.01 381.32,85.09 381.45,85.17 381.58,85.24 381.71,85.32 381.83,85.39 381.96,85.46 382.09,85.54 382.22,85.61 382.34,85.68 382.47,85.75 382.60,85.83 382.73,85.90 382.85,85.97 382.98,86.04 383.11,86.11 383.24,86.18 383.36,86.25 383.49,86.32 383.62,86.38 383.75,86.45 383.87,86.52 384.00,86.59 384.13,86.66 384.25,86.72 384.38,86.79 384.51,86.85 384.64,86.92 384.76,86.98 384.89,87.05 385.02,87.11 385.15,87.18 385.27,87.24 385.40,87.30 385.53,87.37 385.66,87.43 385.78,87.49 385.91,87.55 386.04,87.62 386.17,87.68 386.29,87.74 386.42,87.80 386.55,87.86 386.68,87.92 386.80,87.98 386.93,88.04 387.06,88.10 387.18,88.15 387.31,88.21 387.44,88.27 387.57,88.33 387.69,88.39 387.82,88.44 387.95,88.50 388.08,88.56 388.20,88.61 388.33,88.67 388.46,88.72 388.59,88.78 388.71,88.83 388.84,88.89 388.97,88.94 389.10,89.00 389.22,89.05 389.35,89.10 389.48,89.16 389.61,89.21 389.73,89.26 389.86,89.31 389.99,89.36 390.12,89.42 390.24,89.47 390.37,89.52 390.50,89.57 390.62,89.62 390.75,89.67 390.88,89.72 391.01,89.77 391.13,89.82 391.26,89.87 391.39,89.92 391.52,89.97 391.64,90.02 391.77,90.06 391.90,90.11 392.03,90.16 392.15,90.21 392.28,90.25 392.41,90.30 392.54,90.35 392.66,90.39 392.79,90.44 392.92,90.49 393.05,90.53 393.17,90.58 393.30,90.62 393.43,90.67 393.55,90.71 393.68,90.76 393.81,90.80 393.94,90.85 394.06,90.89 394.19,90.93 394.32,90.98 394.45,91.02 394.57,91.06 394.70,91.11 394.83,91.15 394.96,91.19 395.08,91.23 395.21,91.27 395.34,91.32 395.47,91.36 395.59,91.40 395.72,91.44 395.85,91.48 395.98,91.52 396.10,91.56 396.23,91.60 396.36,91.64 396.49,91.68 396.61,91.72 396.74,91.76 396.87,91.80 396.99,91.84 397.12,91.88 397.25,91.92 397.38,91.96 397.50,91.99 397.63,92.03 397.76,92.07 397.89,92.11 398.01,92.15 398.14,92.18 398.27,92.22 398.40,92.26 398.52,92.29 398.65,92.33 398.78,92.37 398.91,92.40 399.03,92.44 399.16,92.48 399.29,92.51 399.42,92.55 399.54,92.58 399.67,92.62 399.80,92.65 399.92,92.69 400.05,92.72 400.18,92.76 400.31,92.79 400.43,92.83 400.56,92.86 400.69,92.89 400.82,92.93 400.94,92.96 401.07,92.99 401.20,93.03 401.33,93.06 401.45,93.09 401.58,93.13 401.71,93.16 401.84,93.19 401.96,93.22 402.09,93.26 402.22,93.29 402.35,93.32 402.47,93.35 402.60,93.38 402.73,93.42 402.86,93.45 402.98,93.48 403.11,93.51 403.24,93.54 403.36,93.57 403.49,93.60 403.62,93.63 403.75,93.66 403.87,93.69 404.00,93.72 404.13,93.75 404.26,93.78 404.38,93.81 404.51,93.84 404.64,93.87 404.77,93.90 404.89,93.93 405.02,93.96 405.15,93.99 405.28,94.02 405.40,94.04 405.53,94.07 405.66,94.10 405.79,94.13 405.91,94.16 406.04,94.19 406.17,94.21 406.29,94.24 406.42,94.27 406.55,94.30 406.68,94.32 406.80,94.35 406.93,94.38 407.06,94.41 407.19,94.43 407.31,94.46 407.44,94.49 407.57,94.51 407.70,94.54 407.82,94.57 407.95,94.59 408.08,94.62 408.21,94.65 408.33,94.67 408.46,94.70 408.59,94.72 408.72,94.75 408.84,94.77 408.97,94.80 409.10,94.82 409.23,94.85 409.35,94.88 409.48,94.90 409.61,94.92 409.73,94.95 409.86,94.97 409.99,95.00 410.12,95.02 410.24,95.05 410.37,95.07 410.50,95.10 410.63,95.12 410.75,95.14 410.88,95.17 411.01,95.19 411.14,95.22 411.26,95.24 411.39,95.26 411.52,95.29 411.65,95.31 411.77,95.33 411.90,95.36 412.03,95.38 412.16,95.40 412.28,95.43 412.41,95.45 412.54,95.47 412.66,95.49 412.79,95.52 412.92,95.54 413.05,95.56 413.17,95.58 413.30,95.61 413.43,95.63 413.56,95.65 413.68,95.67 413.81,95.69 413.94,95.72 414.07,95.74 414.19,95.76 414.32,95.78 414.45,95.80 414.58,95.82 414.70,95.85 414.83,95.87 414.96,95.89 415.09,95.91 415.21,95.93 415.34,95.95 415.47,95.97 415.60,95.99 415.72,96.01 415.85,96.03 415.98,96.06 416.10,96.08 416.23,96.10 416.36,96.12 416.49,96.14 416.61,96.16 416.74,96.18 416.87,96.20 417.00,96.22 417.12,96.24 417.25,96.26 417.38,96.28 417.51,96.30 417.63,96.32 417.76,96.34 417.89,96.36 418.02,96.38 418.14,96.39 418.27,96.41 418.40,96.43 418.53,96.45 418.65,96.47 418.78,96.49 418.91,96.51 419.03,96.53 419.16,96.55 419.29,96.57 419.42,96.59 419.54,96.60 419.67,96.62 419.80,96.64 419.93,96.66 420.05,96.68 420.18,96.70 420.31,96.72 420.44,96.73 420.56,96.75 420.69,96.77 420.82,96.79 420.95,96.81 421.07,96.82 421.20,96.84 421.33,96.86 421.46,96.88 421.58,96.90 421.71,96.91 421.84,96.93 421.97,96.95 422.09,96.97 422.22,96.98 422.35,97.00 422.47,97.02 422.60,97.04 422.73,97.05 422.86,97.07 422.98,97.09 423.11,97.11 423.24,97.12 423.37,97.14 423.49,97.16 423.62,97.17 423.75,97.19 423.88,97.21 424.00,97.22 424.13,97.24 424.26,97.26 424.39,97.27 424.51,97.29 424.64,97.31 424.77,97.32 424.90,97.34 425.02,97.36 425.15,97.37 425.28,97.39 425.40,97.41 425.53,97.42 425.66,97.44 425.79,97.45 425.91,97.47 426.04,97.49 426.17,97.50 426.30,97.52 426.42,97.53 426.55,97.55 426.68,97.57 426.81,97.58 426.93,97.60 427.06,97.61 427.19,97.63 427.32,97.64 427.44,97.66 427.57,97.68 427.70,97.69 427.83,97.71 427.95,97.72 428.08,97.74 428.21,97.75 428.34,97.77 428.46,97.78 428.59,97.80 428.72,97.81 428.84,97.83 428.97,97.84 429.10,97.86 429.23,97.87 429.35,97.89 429.48,97.90 429.61,97.92 429.74,97.93 429.86,97.95 429.99,97.96 430.12,97.98 430.25,97.99 430.37,98.01 430.50,98.02 430.63,98.04 430.76,98.05 430.88,98.07 431.01,98.08 431.14,98.10 431.27,98.11 431.39,98.12 431.52,98.14 431.65,98.15 431.77,98.17 431.90,98.18 432.03,98.20 432.16,98.21 432.28,98.22 432.41,98.24 432.54,98.25 432.67,98.27 432.79,98.28 432.92,98.30 433.05,98.31 433.18,98.32 433.30,98.34 433.43,98.35 433.56,98.37 433.69,98.38 433.81,98.39 433.94,98.41 434.07,98.42 434.20,98.43 434.32,98.45 434.45,98.46 434.58,98.48 434.71,98.49 434.83,98.50 434.96,98.52 435.09,98.53 435.21,98.54 435.34,98.56 435.47,98.57 435.60,98.58 435.72,98.60 435.85,98.61 435.98,98.62 436.11,98.64 436.23,98.65 436.36,98.66 436.49,98.68 436.62,98.69 436.74,98.70 436.87,98.72 437.00,98.73 437.13,98.74 437.25,98.76 437.38,98.77 437.51,98.78 437.64,98.79 437.76,98.81 437.89,98.82 438.02,98.83 438.14,98.85 438.27,98.86 438.40,98.87 438.53,98.88 438.65,98.90 438.78,98.91 438.91,98.92 439.04,98.94 439.16,98.95 439.29,98.96 439.42,98.97 439.55,98.99 439.67,99.00 439.80,99.01 439.93,99.02 440.06,99.04 440.18,99.05 440.31,99.06 440.44,99.07 440.57,99.09 440.69,99.10 440.82,99.11 440.95,99.12 441.07,99.14 441.20,99.15 441.33,99.16 441.46,99.17 441.58,99.19 441.71,99.20 441.84,99.21 441.97,99.22 442.09,99.23 442.22,99.25 442.35,99.26 442.48,99.27 442.60,99.28 442.73,99.29 442.86,99.31 442.99,99.32 443.11,99.33 443.24,99.34 443.37,99.36 443.50,99.37 443.62,99.38 443.75,99.39 443.88,99.40 444.01,99.41 444.13,99.43 444.26,99.44 444.39,99.45 444.51,99.46 444.64,99.47 444.77,99.49 444.90,99.50 445.02,99.51 445.15,99.52 445.28,99.53 445.41,99.54 445.53,99.56 445.66,99.57 445.79,99.58 445.92,99.59 446.04,99.60 446.17,99.61 446.30,99.63 446.43,99.64 446.55,99.65 446.68,99.66 446.81,99.67 446.94,99.68 447.06,99.70 447.19,99.71 447.32,99.72 447.44,99.73 447.57,99.74 447.70,99.75 447.83,99.76 447.95,99.78 448.08,99.79 448.21,99.80 448.34,99.81 448.46,99.82 448.59,99.83 448.72,99.84 448.85,99.85 448.97,99.87 449.10,99.88 449.23,99.89 449.36,99.90 449.48,99.91 449.61,99.92 449.74,99.93 449.87,99.94 449.99,99.96 450.12,99.97 450.25,99.98 450.38,99.99 450.50,100.00 450.63,100.01 450.76,100.02 450.88,100.03 451.01,100.04 451.14,100.05 451.27,100.07 451.39,100.08 451.52,100.09 451.65,100.10 451.78,100.11 451.90,100.12 452.03,100.13 452.16,100.14 452.29,100.15 452.41,100.16 452.54,100.17 452.67,100.19 452.80,100.20 452.92,100.21 453.05,100.22 453.18,100.23 453.31,100.24 453.43,100.25 453.56,100.26 453.69,100.27 453.81,100.28 453.94,100.29 454.07,100.30 454.20,100.32 454.32,100.33 454.45,100.34 454.58,100.35 454.71,100.36 454.83,100.37 454.96,100.38 455.09,100.39 455.22,100.40 455.34,100.41 455.47,100.42 455.60,100.43 455.73,100.44 455.85,100.45 455.98,100.46 456.11,100.47 456.24,100.48 456.36,100.50 456.49,100.51 456.62,100.52 456.75,100.53 456.87,100.54 457.00,100.55" fill="none" stroke="#EDB120" stroke-width="1.45" stroke-linejoin="round"/>
<polyline points="330.36,135.60 330.49,134.85 330.62,134.11 330.75,133.46 330.87,132.95 331.00,132.56 331.13,132.20 331.26,131.86 331.38,131.55 331.51,131.26 331.64,131.00 331.77,130.74 331.89,130.51 332.02,130.28 332.15,130.07 332.28,129.85 332.40,129.65 332.53,129.44 332.66,129.23 332.79,129.02 332.91,128.79 333.04,128.56 333.17,128.32 333.29,128.06 333.42,127.81 333.55,127.55 333.68,127.29 333.80,127.03 333.93,126.77 334.06,126.51 334.19,126.25 334.31,125.99 334.44,125.73 334.57,125.47 334.70,125.21 334.82,124.95 334.95,124.69 335.08,124.44 335.21,124.18 335.33,123.93 335.46,123.68 335.59,123.43 335.72,123.19 335.84,122.95 335.97,122.71 336.10,122.47 336.22,122.24 336.35,122.02 336.48,121.79 336.61,121.58 336.73,121.36 336.86,121.15 336.99,120.94 337.12,120.73 337.24,120.53 337.37,120.32 337.50,120.11 337.63,119.91 337.75,119.71 337.88,119.51 338.01,119.31 338.14,119.11 338.26,118.91 338.39,118.71 338.52,118.52 338.65,118.32 338.77,118.13 338.90,117.94 339.03,117.75 339.16,117.56 339.28,117.37 339.41,117.19 339.54,117.00 339.66,116.82 339.79,116.64 339.92,116.46 340.05,116.28 340.17,116.10 340.30,115.93 340.43,115.75 340.56,115.58 340.68,115.41 340.81,115.24 340.94,115.07 341.07,114.91 341.19,114.74 341.32,114.58 341.45,114.42 341.58,114.26 341.70,114.10 341.83,113.94 341.96,113.79 342.09,113.64 342.21,113.48 342.34,113.33 342.47,113.19 342.59,113.04 342.72,112.90 342.85,112.75 342.98,112.61 343.10,112.47 343.23,112.33 343.36,112.20 343.49,112.06 343.61,111.93 343.74,111.80 343.87,111.67 344.00,111.54 344.12,111.41 344.25,111.28 344.38,111.15 344.51,111.03 344.63,110.91 344.76,110.78 344.89,110.66 345.02,110.54 345.14,110.42 345.27,110.30 345.40,110.18 345.53,110.07 345.65,109.95 345.78,109.84 345.91,109.72 346.03,109.61 346.16,109.50 346.29,109.38 346.42,109.27 346.54,109.16 346.67,109.05 346.80,108.94 346.93,108.83 347.05,108.72 347.18,108.61 347.31,108.51 347.44,108.40 347.56,108.29 347.69,108.18 347.82,108.08 347.95,107.97 348.07,107.86 348.20,107.76 348.33,107.65 348.46,107.55 348.58,107.44 348.71,107.33 348.84,107.23 348.96,107.12 349.09,107.02 349.22,106.92 349.35,106.82 349.47,106.72 349.60,106.63 349.73,106.54 349.86,106.45 349.98,106.36 350.11,106.27 350.24,106.19 350.37,106.10 350.49,106.02 350.62,105.94 350.75,105.86 350.88,105.78 351.00,105.70 351.13,105.62 351.26,105.54 351.39,105.46 351.51,105.39 351.64,105.31 351.77,105.23 351.90,105.15 352.02,105.07 352.15,104.99 352.28,104.90 352.40,104.82 352.53,104.73 352.66,104.65 352.79,104.56 352.91,104.47 353.04,104.38 353.17,104.28 353.30,104.18 353.42,104.09 353.55,103.98 353.68,103.88 353.81,103.77 353.93,103.66 354.06,103.54 354.19,103.43 354.32,103.30 354.44,103.18 354.57,103.05 354.70,102.92 354.83,102.78 354.95,102.63 355.08,102.49 355.21,102.33 355.33,102.17 355.46,101.98 355.59,101.75 355.72,101.48 355.84,101.16 355.97,100.68 356.10,99.96 356.23,99.04 356.35,97.94 356.48,96.71 356.61,95.39 356.74,94.00 356.86,92.58 356.99,91.18 357.12,89.81 357.25,88.38 357.37,86.80 357.50,85.11 357.63,83.38 357.76,81.66 357.88,80.00 358.01,78.48 358.14,77.14 358.27,75.91 358.39,74.70 358.52,73.54 358.65,72.44 358.77,71.42 358.90,70.50 359.03,69.72 359.16,69.07 359.28,68.52 359.41,68.00 359.54,67.51 359.67,67.05 359.79,66.64 359.92,66.26 360.05,65.93 360.18,65.65 360.30,65.41 360.43,65.23 360.56,65.08 360.69,64.93 360.81,64.79 360.94,64.65 361.07,64.53 361.20,64.42 361.32,64.32 361.45,64.24 361.58,64.17 361.70,64.12 361.83,64.09 361.96,64.08 362.09,64.09 362.21,64.12 362.34,64.17 362.47,64.23 362.60,64.31 362.72,64.40 362.85,64.50 362.98,64.61 363.11,64.76 363.23,65.00 363.36,65.29 363.49,65.63 363.62,65.97 363.74,66.30 363.87,66.60 364.00,66.84 364.13,67.04 364.25,67.23 364.38,67.40 364.51,67.57 364.63,67.73 364.76,67.88 364.89,68.02 365.02,68.17 365.14,68.31 365.27,68.45 365.40,68.60 365.53,68.75 365.65,68.91 365.78,69.06 365.91,69.21 366.04,69.36 366.16,69.51 366.29,69.66 366.42,69.81 366.55,69.95 366.67,70.10 366.80,70.24 366.93,70.39 367.06,70.53 367.18,70.68 367.31,70.82 367.44,70.96 367.57,71.10 367.69,71.24 367.82,71.38 367.95,71.52 368.07,71.65 368.20,71.79 368.33,71.92 368.46,72.06 368.58,72.19 368.71,72.33 368.84,72.46 368.97,72.59 369.09,72.72 369.22,72.85 369.35,72.98 369.48,73.11 369.60,73.24 369.73,73.36 369.86,73.49 369.99,73.62 370.11,73.74 370.24,73.87 370.37,73.99 370.50,74.11 370.62,74.23 370.75,74.36 370.88,74.48 371.00,74.60 371.13,74.72 371.26,74.84 371.39,74.95 371.51,75.07 371.64,75.19 371.77,75.30 371.90,75.42 372.02,75.53 372.15,75.65 372.28,75.76 372.41,75.87 372.53,75.99 372.66,76.10 372.79,76.21 372.92,76.32 373.04,76.43 373.17,76.54 373.30,76.65 373.43,76.75 373.55,76.86 373.68,76.97 373.81,77.07 373.94,77.18 374.06,77.28 374.19,77.39 374.32,77.49 374.44,77.60 374.57,77.70 374.70,77.80 374.83,77.90 374.95,78.00 375.08,78.10 375.21,78.20 375.34,78.30 375.46,78.40 375.59,78.50 375.72,78.59 375.85,78.69 375.97,78.79 376.10,78.88 376.23,78.98 376.36,79.07 376.48,79.17 376.61,79.26 376.74,79.36 376.87,79.45 376.99,79.54 377.12,79.63 377.25,79.72 377.38,79.81 377.50,79.90 377.63,79.99 377.76,80.08 377.88,80.17 378.01,80.26 378.14,80.35 378.27,80.43 378.39,80.52 378.52,80.61 378.65,80.69 378.78,80.78 378.90,80.86 379.03,80.95 379.16,81.03 379.29,81.12 379.41,81.20 379.54,81.28 379.67,81.36 379.80,81.45 379.92,81.53 380.05,81.61 380.18,81.69 380.31,81.77 380.43,81.85 380.56,81.93 380.69,82.01 380.81,82.08 380.94,82.16 381.07,82.24 381.20,82.32 381.32,82.39 381.45,82.47 381.58,82.54 381.71,82.62 381.83,82.69 381.96,82.77 382.09,82.84 382.22,82.92 382.34,82.99 382.47,83.06 382.60,83.14 382.73,83.21 382.85,83.28 382.98,83.35 383.11,83.42 383.24,83.49 383.36,83.56 383.49,83.63 383.62,83.70 383.75,83.77 383.87,83.84 384.00,83.91 384.13,83.98 384.25,84.05 384.38,84.11 384.51,84.18 384.64,84.25 384.76,84.31 384.89,84.38 385.02,84.45 385.15,84.51 385.27,84.58 385.40,84.64 385.53,84.70 385.66,84.77 385.78,84.83 385.91,84.90 386.04,84.96 386.17,85.02 386.29,85.08 386.42,85.15 386.55,85.21 386.68,85.27 386.80,85.33 386.93,85.39 387.06,85.45 387.18,85.51 387.31,85.57 387.44,85.63 387.57,85.69 387.69,85.75 387.82,85.81 387.95,85.87 388.08,85.92 388.20,85.98 388.33,86.04 388.46,86.10 388.59,86.15 388.71,86.21 388.84,86.27 388.97,86.32 389.10,86.38 389.22,86.43 389.35,86.49 389.48,86.54 389.61,86.60 389.73,86.65 389.86,86.71 389.99,86.76 390.12,86.81 390.24,86.87 390.37,86.92 390.50,86.97 390.62,87.03 390.75,87.08 390.88,87.13 391.01,87.18 391.13,87.23 391.26,87.28 391.39,87.33 391.52,87.39 391.64,87.44 391.77,87.49 391.90,87.54 392.03,87.59 392.15,87.64 392.28,87.68 392.41,87.73 392.54,87.78 392.66,87.83 392.79,87.88 392.92,87.93 393.05,87.98 393.17,88.02 393.30,88.07 393.43,88.12 393.55,88.16 393.68,88.21 393.81,88.26 393.94,88.30 394.06,88.35 394.19,88.40 394.32,88.44 394.45,88.49 394.57,88.53 394.70,88.58 394.83,88.62 394.96,88.67 395.08,88.71 395.21,88.75 395.34,88.80 395.47,88.84 395.59,88.89 395.72,88.93 395.85,88.97 395.98,89.02 396.10,89.06 396.23,89.10 396.36,89.14 396.49,89.18 396.61,89.23 396.74,89.27 396.87,89.31 396.99,89.35 397.12,89.39 397.25,89.43 397.38,89.47 397.50,89.52 397.63,89.56 397.76,89.60 397.89,89.64 398.01,89.68 398.14,89.72 398.27,89.75 398.40,89.79 398.52,89.83 398.65,89.87 398.78,89.91 398.91,89.95 399.03,89.99 399.16,90.03 399.29,90.06 399.42,90.10 399.54,90.14 399.67,90.18 399.80,90.22 399.92,90.25 400.05,90.29 400.18,90.33 400.31,90.36 400.43,90.40 400.56,90.44 400.69,90.47 400.82,90.51 400.94,90.55 401.07,90.58 401.20,90.62 401.33,90.65 401.45,90.69 401.58,90.72 401.71,90.76 401.84,90.79 401.96,90.83 402.09,90.86 402.22,90.90 402.35,90.93 402.47,90.97 402.60,91.00 402.73,91.03 402.86,91.07 402.98,91.10 403.11,91.13 403.24,91.17 403.36,91.20 403.49,91.23 403.62,91.27 403.75,91.30 403.87,91.33 404.00,91.36 404.13,91.40 404.26,91.43 404.38,91.46 404.51,91.49 404.64,91.52 404.77,91.56 404.89,91.59 405.02,91.62 405.15,91.65 405.28,91.68 405.40,91.71 405.53,91.74 405.66,91.77 405.79,91.81 405.91,91.84 406.04,91.87 406.17,91.90 406.29,91.93 406.42,91.96 406.55,91.99 406.68,92.02 406.80,92.05 406.93,92.08 407.06,92.11 407.19,92.14 407.31,92.16 407.44,92.19 407.57,92.22 407.70,92.25 407.82,92.28 407.95,92.31 408.08,92.34 408.21,92.37 408.33,92.39 408.46,92.42 408.59,92.45 408.72,92.48 408.84,92.51 408.97,92.53 409.10,92.56 409.23,92.59 409.35,92.62 409.48,92.65 409.61,92.67 409.73,92.70 409.86,92.73 409.99,92.75 410.12,92.78 410.24,92.81 410.37,92.83 410.50,92.86 410.63,92.89 410.75,92.91 410.88,92.94 411.01,92.97 411.14,92.99 411.26,93.02 411.39,93.04 411.52,93.07 411.65,93.10 411.77,93.12 411.90,93.15 412.03,93.17 412.16,93.20 412.28,93.22 412.41,93.25 412.54,93.27 412.66,93.30 412.79,93.32 412.92,93.35 413.05,93.37 413.17,93.40 413.30,93.42 413.43,93.45 413.56,93.47 413.68,93.50 413.81,93.52 413.94,93.54 414.07,93.57 414.19,93.59 414.32,93.62 414.45,93.64 414.58,93.66 414.70,93.69 414.83,93.71 414.96,93.73 415.09,93.76 415.21,93.78 415.34,93.80 415.47,93.83 415.60,93.85 415.72,93.87 415.85,93.90 415.98,93.92 416.10,93.94 416.23,93.96 416.36,93.99 416.49,94.01 416.61,94.03 416.74,94.06 416.87,94.08 417.00,94.10 417.12,94.12 417.25,94.14 417.38,94.17 417.51,94.19 417.63,94.21 417.76,94.23 417.89,94.25 418.02,94.28 418.14,94.30 418.27,94.32 418.40,94.34 418.53,94.36 418.65,94.38 418.78,94.40 418.91,94.43 419.03,94.45 419.16,94.47 419.29,94.49 419.42,94.51 419.54,94.53 419.67,94.55 419.80,94.57 419.93,94.59 420.05,94.61 420.18,94.63 420.31,94.66 420.44,94.68 420.56,94.70 420.69,94.72 420.82,94.74 420.95,94.76 421.07,94.78 421.20,94.80 421.33,94.82 421.46,94.84 421.58,94.86 421.71,94.88 421.84,94.90 421.97,94.92 422.09,94.94 422.22,94.96 422.35,94.98 422.47,95.00 422.60,95.02 422.73,95.03 422.86,95.05 422.98,95.07 423.11,95.09 423.24,95.11 423.37,95.13 423.49,95.15 423.62,95.17 423.75,95.19 423.88,95.21 424.00,95.23 424.13,95.25 424.26,95.26 424.39,95.28 424.51,95.30 424.64,95.32 424.77,95.34 424.90,95.36 425.02,95.38 425.15,95.39 425.28,95.41 425.40,95.43 425.53,95.45 425.66,95.47 425.79,95.49 425.91,95.50 426.04,95.52 426.17,95.54 426.30,95.56 426.42,95.58 426.55,95.59 426.68,95.61 426.81,95.63 426.93,95.65 427.06,95.67 427.19,95.68 427.32,95.70 427.44,95.72 427.57,95.74 427.70,95.75 427.83,95.77 427.95,95.79 428.08,95.81 428.21,95.82 428.34,95.84 428.46,95.86 428.59,95.88 428.72,95.89 428.84,95.91 428.97,95.93 429.10,95.94 429.23,95.96 429.35,95.98 429.48,96.00 429.61,96.01 429.74,96.03 429.86,96.05 429.99,96.06 430.12,96.08 430.25,96.10 430.37,96.11 430.50,96.13 430.63,96.15 430.76,96.16 430.88,96.18 431.01,96.20 431.14,96.21 431.27,96.23 431.39,96.25 431.52,96.26 431.65,96.28 431.77,96.29 431.90,96.31 432.03,96.33 432.16,96.34 432.28,96.36 432.41,96.38 432.54,96.39 432.67,96.41 432.79,96.42 432.92,96.44 433.05,96.46 433.18,96.47 433.30,96.49 433.43,96.50 433.56,96.52 433.69,96.53 433.81,96.55 433.94,96.57 434.07,96.58 434.20,96.60 434.32,96.61 434.45,96.63 434.58,96.64 434.71,96.66 434.83,96.67 434.96,96.69 435.09,96.71 435.21,96.72 435.34,96.74 435.47,96.75 435.60,96.77 435.72,96.78 435.85,96.80 435.98,96.81 436.11,96.83 436.23,96.84 436.36,96.86 436.49,96.87 436.62,96.89 436.74,96.90 436.87,96.92 437.00,96.93 437.13,96.95 437.25,96.96 437.38,96.98 437.51,96.99 437.64,97.01 437.76,97.02 437.89,97.04 438.02,97.05 438.14,97.07 438.27,97.08 438.40,97.10 438.53,97.11 438.65,97.13 438.78,97.14 438.91,97.15 439.04,97.17 439.16,97.18 439.29,97.20 439.42,97.21 439.55,97.23 439.67,97.24 439.80,97.26 439.93,97.27 440.06,97.28 440.18,97.30 440.31,97.31 440.44,97.33 440.57,97.34 440.69,97.36 440.82,97.37 440.95,97.38 441.07,97.40 441.20,97.41 441.33,97.43 441.46,97.44 441.58,97.45 441.71,97.47 441.84,97.48 441.97,97.50 442.09,97.51 442.22,97.52 442.35,97.54 442.48,97.55 442.60,97.57 442.73,97.58 442.86,97.59 442.99,97.61 443.11,97.62 443.24,97.63 443.37,97.65 443.50,97.66 443.62,97.68 443.75,97.69 443.88,97.70 444.01,97.72 444.13,97.73 444.26,97.74 444.39,97.76 444.51,97.77 444.64,97.78 444.77,97.80 444.90,97.81 445.02,97.82 445.15,97.84 445.28,97.85 445.41,97.86 445.53,97.88 445.66,97.89 445.79,97.91 445.92,97.92 446.04,97.93 446.17,97.94 446.30,97.96 446.43,97.97 446.55,97.98 446.68,98.00 446.81,98.01 446.94,98.02 447.06,98.04 447.19,98.05 447.32,98.06 447.44,98.08 447.57,98.09 447.70,98.10 447.83,98.12 447.95,98.13 448.08,98.14 448.21,98.15 448.34,98.17 448.46,98.18 448.59,98.19 448.72,98.21 448.85,98.22 448.97,98.23 449.10,98.25 449.23,98.26 449.36,98.27 449.48,98.28 449.61,98.30 449.74,98.31 449.87,98.32 449.99,98.33 450.12,98.35 450.25,98.36 450.38,98.37 450.50,98.39 450.63,98.40 450.76,98.41 450.88,98.42 451.01,98.44 451.14,98.45 451.27,98.46 451.39,98.47 451.52,98.49 451.65,98.50 451.78,98.51 451.90,98.52 452.03,98.54 452.16,98.55 452.29,98.56 452.41,98.57 452.54,98.59 452.67,98.60 452.80,98.61 452.92,98.62 453.05,98.64 453.18,98.65 453.31,98.66 453.43,98.67 453.56,98.69 453.69,98.70 453.81,98.71 453.94,98.72 454.07,98.73 454.20,98.75 454.32,98.76 454.45,98.77 454.58,98.78 454.71,98.80 454.83,98.81 454.96,98.82 455.09,98.83 455.22,98.84 455.34,98.86 455.47,98.87 455.60,98.88 455.73,98.89 455.85,98.90 455.98,98.92 456.11,98.93 456.24,98.94 456.36,98.95 456.49,98.97 456.62,98.98 456.75,98.99 456.87,99.00 457.00,99.01" fill="none" stroke="#7E2F8E" stroke-width="1.45" stroke-linejoin="round"/>
<polyline points="330.36,135.60 330.49,134.68 330.62,133.77 330.75,132.97 330.87,132.36 331.00,131.90 331.13,131.47 331.26,131.08 331.38,130.72 331.51,130.38 331.64,130.07 331.77,129.79 331.89,129.51 332.02,129.26 332.15,129.01 332.28,128.77 332.40,128.53 332.53,128.29 332.66,128.05 332.79,127.79 332.91,127.53 333.04,127.26 333.17,126.96 333.29,126.66 333.42,126.35 333.55,126.03 333.68,125.71 333.80,125.39 333.93,125.07 334.06,124.74 334.19,124.41 334.31,124.08 334.44,123.75 334.57,123.42 334.70,123.09 334.82,122.76 334.95,122.44 335.08,122.11 335.21,121.79 335.33,121.47 335.46,121.16 335.59,120.85 335.72,120.54 335.84,120.24 335.97,119.94 336.10,119.66 336.22,119.37 336.35,119.10 336.48,118.83 336.61,118.58 336.73,118.33 336.86,118.09 336.99,117.84 337.12,117.61 337.24,117.37 337.37,117.13 337.50,116.90 337.63,116.67 337.75,116.44 337.88,116.21 338.01,115.99 338.14,115.76 338.26,115.54 338.39,115.32 338.52,115.11 338.65,114.89 338.77,114.68 338.90,114.47 339.03,114.26 339.16,114.05 339.28,113.84 339.41,113.64 339.54,113.44 339.66,113.24 339.79,113.04 339.92,112.85 340.05,112.66 340.17,112.47 340.30,112.28 340.43,112.09 340.56,111.91 340.68,111.73 340.81,111.55 340.94,111.37 341.07,111.19 341.19,111.02 341.32,110.85 341.45,110.68 341.58,110.51 341.70,110.35 341.83,110.19 341.96,110.03 342.09,109.87 342.21,109.72 342.34,109.56 342.47,109.41 342.59,109.26 342.72,109.12 342.85,108.97 342.98,108.83 343.10,108.69 343.23,108.55 343.36,108.42 343.49,108.28 343.61,108.15 343.74,108.02 343.87,107.89 344.00,107.76 344.12,107.63 344.25,107.51 344.38,107.38 344.51,107.26 344.63,107.14 344.76,107.02 344.89,106.90 345.02,106.78 345.14,106.66 345.27,106.55 345.40,106.43 345.53,106.32 345.65,106.21 345.78,106.10 345.91,105.99 346.03,105.88 346.16,105.77 346.29,105.67 346.42,105.56 346.54,105.46 346.67,105.35 346.80,105.25 346.93,105.14 347.05,105.04 347.18,104.94 347.31,104.84 347.44,104.74 347.56,104.64 347.69,104.54 347.82,104.44 347.95,104.35 348.07,104.25 348.20,104.15 348.33,104.05 348.46,103.96 348.58,103.86 348.71,103.77 348.84,103.67 348.96,103.58 349.09,103.48 349.22,103.39 349.35,103.30 349.47,103.22 349.60,103.14 349.73,103.06 349.86,102.98 349.98,102.91 350.11,102.83 350.24,102.76 350.37,102.69 350.49,102.62 350.62,102.55 350.75,102.49 350.88,102.42 351.00,102.36 351.13,102.29 351.26,102.23 351.39,102.17 351.51,102.10 351.64,102.04 351.77,101.97 351.90,101.91 352.02,101.84 352.15,101.78 352.28,101.71 352.40,101.64 352.53,101.57 352.66,101.50 352.79,101.43 352.91,101.35 353.04,101.27 353.17,101.19 353.30,101.11 353.42,101.03 353.55,100.94 353.68,100.85 353.81,100.76 353.93,100.66 354.06,100.56 354.19,100.46 354.32,100.35 354.44,100.24 354.57,100.12 354.70,100.00 354.83,99.88 354.95,99.75 355.08,99.62 355.21,99.47 355.33,99.31 355.46,99.12 355.59,98.89 355.72,98.62 355.84,98.29 355.97,97.81 356.10,97.07 356.23,96.13 356.35,95.02 356.48,93.76 356.61,92.41 356.74,90.99 356.86,89.55 356.99,88.11 357.12,86.72 357.25,85.27 357.37,83.65 357.50,81.94 357.63,80.18 357.76,78.43 357.88,76.75 358.01,75.20 358.14,73.83 358.27,72.58 358.39,71.35 358.52,70.17 358.65,69.05 358.77,68.01 358.90,67.08 359.03,66.28 359.16,65.62 359.28,65.06 359.41,64.53 359.54,64.03 359.67,63.57 359.79,63.15 359.92,62.77 360.05,62.43 360.18,62.14 360.30,61.90 360.43,61.72 360.56,61.56 360.69,61.41 360.81,61.27 360.94,61.13 361.07,61.01 361.20,60.89 361.32,60.79 361.45,60.71 361.58,60.64 361.70,60.59 361.83,60.56 361.96,60.55 362.09,60.56 362.21,60.59 362.34,60.63 362.47,60.70 362.60,60.78 362.72,60.87 362.85,60.97 362.98,61.07 363.11,61.25 363.23,61.52 363.36,61.88 363.49,62.27 363.62,62.69 363.74,63.09 363.87,63.45 364.00,63.73 364.13,63.96 364.25,64.18 364.38,64.38 364.51,64.57 364.63,64.75 364.76,64.92 364.89,65.08 365.02,65.25 365.14,65.41 365.27,65.57 365.40,65.74 365.53,65.91 365.65,66.08 365.78,66.25 365.91,66.42 366.04,66.59 366.16,66.76 366.29,66.93 366.42,67.10 366.55,67.26 366.67,67.43 366.80,67.59 366.93,67.75 367.06,67.91 367.18,68.07 367.31,68.23 367.44,68.39 367.57,68.55 367.69,68.70 367.82,68.86 367.95,69.01 368.07,69.16 368.20,69.32 368.33,69.47 368.46,69.62 368.58,69.77 368.71,69.91 368.84,70.06 368.97,70.21 369.09,70.35 369.22,70.50 369.35,70.64 369.48,70.78 369.60,70.92 369.73,71.06 369.86,71.20 369.99,71.34 370.11,71.48 370.24,71.62 370.37,71.75 370.50,71.89 370.62,72.02 370.75,72.15 370.88,72.29 371.00,72.42 371.13,72.55 371.26,72.68 371.39,72.81 371.51,72.93 371.64,73.06 371.77,73.19 371.90,73.31 372.02,73.44 372.15,73.56 372.28,73.69 372.41,73.81 372.53,73.93 372.66,74.05 372.79,74.17 372.92,74.29 373.04,74.41 373.17,74.53 373.30,74.64 373.43,74.76 373.55,74.87 373.68,74.99 373.81,75.10 373.94,75.22 374.06,75.33 374.19,75.44 374.32,75.55 374.44,75.66 374.57,75.77 374.70,75.88 374.83,75.99 374.95,76.10 375.08,76.21 375.21,76.31 375.34,76.42 375.46,76.52 375.59,76.63 375.72,76.73 375.85,76.83 375.97,76.94 376.10,77.04 376.23,77.14 376.36,77.24 376.48,77.34 376.61,77.44 376.74,77.54 376.87,77.63 376.99,77.73 377.12,77.83 377.25,77.93 377.38,78.02 377.50,78.12 377.63,78.21 377.76,78.30 377.88,78.40 378.01,78.49 378.14,78.58 378.27,78.67 378.39,78.76 378.52,78.85 378.65,78.94 378.78,79.03 378.90,79.12 379.03,79.21 379.16,79.30 379.29,79.39 379.41,79.47 379.54,79.56 379.67,79.64 379.80,79.73 379.92,79.81 380.05,79.90 380.18,79.98 380.31,80.06 380.43,80.15 380.56,80.23 380.69,80.31 380.81,80.39 380.94,80.47 381.07,80.55 381.20,80.63 381.32,80.71 381.45,80.79 381.58,80.87 381.71,80.94 381.83,81.02 381.96,81.10 382.09,81.17 382.22,81.25 382.34,81.33 382.47,81.40 382.60,81.47 382.73,81.55 382.85,81.62 382.98,81.70 383.11,81.77 383.24,81.84 383.36,81.91 383.49,81.98 383.62,82.05 383.75,82.13 383.87,82.20 384.00,82.27 384.13,82.33 384.25,82.40 384.38,82.47 384.51,82.54 384.64,82.61 384.76,82.68 384.89,82.74 385.02,82.81 385.15,82.88 385.27,82.94 385.40,83.01 385.53,83.07 385.66,83.14 385.78,83.20 385.91,83.26 386.04,83.33 386.17,83.39 386.29,83.45 386.42,83.52 386.55,83.58 386.68,83.64 386.80,83.70 386.93,83.76 387.06,83.82 387.18,83.88 387.31,83.94 387.44,84.00 387.57,84.06 387.69,84.12 387.82,84.18 387.95,84.24 388.08,84.30 388.20,84.36 388.33,84.41 388.46,84.47 388.59,84.53 388.71,84.58 388.84,84.64 388.97,84.70 389.10,84.75 389.22,84.81 389.35,84.86 389.48,84.92 389.61,84.97 389.73,85.02 389.86,85.08 389.99,85.13 390.12,85.19 390.24,85.24 390.37,85.29 390.50,85.34 390.62,85.40 390.75,85.45 390.88,85.50 391.01,85.55 391.13,85.60 391.26,85.65 391.39,85.70 391.52,85.75 391.64,85.80 391.77,85.85 391.90,85.90 392.03,85.95 392.15,86.00 392.28,86.05 392.41,86.10 392.54,86.14 392.66,86.19 392.79,86.24 392.92,86.29 393.05,86.33 393.17,86.38 393.30,86.43 393.43,86.47 393.55,86.52 393.68,86.56 393.81,86.61 393.94,86.66 394.06,86.70 394.19,86.75 394.32,86.79 394.45,86.83 394.57,86.88 394.70,86.92 394.83,86.97 394.96,87.01 395.08,87.05 395.21,87.10 395.34,87.14 395.47,87.18 395.59,87.22 395.72,87.27 395.85,87.31 395.98,87.35 396.10,87.39 396.23,87.43 396.36,87.47 396.49,87.52 396.61,87.56 396.74,87.60 396.87,87.64 396.99,87.68 397.12,87.72 397.25,87.76 397.38,87.80 397.50,87.84 397.63,87.88 397.76,87.92 397.89,87.95 398.01,87.99 398.14,88.03 398.27,88.07 398.40,88.11 398.52,88.15 398.65,88.18 398.78,88.22 398.91,88.26 399.03,88.30 399.16,88.33 399.29,88.37 399.42,88.41 399.54,88.44 399.67,88.48 399.80,88.52 399.92,88.55 400.05,88.59 400.18,88.62 400.31,88.66 400.43,88.69 400.56,88.73 400.69,88.76 400.82,88.80 400.94,88.83 401.07,88.87 401.20,88.90 401.33,88.94 401.45,88.97 401.58,89.01 401.71,89.04 401.84,89.07 401.96,89.11 402.09,89.14 402.22,89.17 402.35,89.21 402.47,89.24 402.60,89.27 402.73,89.30 402.86,89.34 402.98,89.37 403.11,89.40 403.24,89.43 403.36,89.47 403.49,89.50 403.62,89.53 403.75,89.56 403.87,89.59 404.00,89.62 404.13,89.65 404.26,89.69 404.38,89.72 404.51,89.75 404.64,89.78 404.77,89.81 404.89,89.84 405.02,89.87 405.15,89.90 405.28,89.93 405.40,89.96 405.53,89.99 405.66,90.02 405.79,90.05 405.91,90.08 406.04,90.11 406.17,90.14 406.29,90.16 406.42,90.19 406.55,90.22 406.68,90.25 406.80,90.28 406.93,90.31 407.06,90.34 407.19,90.36 407.31,90.39 407.44,90.42 407.57,90.45 407.70,90.48 407.82,90.50 407.95,90.53 408.08,90.56 408.21,90.59 408.33,90.61 408.46,90.64 408.59,90.67 408.72,90.69 408.84,90.72 408.97,90.75 409.10,90.77 409.23,90.80 409.35,90.83 409.48,90.85 409.61,90.88 409.73,90.91 409.86,90.93 409.99,90.96 410.12,90.98 410.24,91.01 410.37,91.04 410.50,91.06 410.63,91.09 410.75,91.11 410.88,91.14 411.01,91.16 411.14,91.19 411.26,91.21 411.39,91.24 411.52,91.26 411.65,91.29 411.77,91.31 411.90,91.34 412.03,91.36 412.16,91.39 412.28,91.41 412.41,91.43 412.54,91.46 412.66,91.48 412.79,91.51 412.92,91.53 413.05,91.55 413.17,91.58 413.30,91.60 413.43,91.62 413.56,91.65 413.68,91.67 413.81,91.70 413.94,91.72 414.07,91.74 414.19,91.76 414.32,91.79 414.45,91.81 414.58,91.83 414.70,91.86 414.83,91.88 414.96,91.90 415.09,91.92 415.21,91.95 415.34,91.97 415.47,91.99 415.60,92.01 415.72,92.04 415.85,92.06 415.98,92.08 416.10,92.10 416.23,92.12 416.36,92.15 416.49,92.17 416.61,92.19 416.74,92.21 416.87,92.23 417.00,92.26 417.12,92.28 417.25,92.30 417.38,92.32 417.51,92.34 417.63,92.36 417.76,92.38 417.89,92.40 418.02,92.43 418.14,92.45 418.27,92.47 418.40,92.49 418.53,92.51 418.65,92.53 418.78,92.55 418.91,92.57 419.03,92.59 419.16,92.61 419.29,92.63 419.42,92.65 419.54,92.67 419.67,92.69 419.80,92.71 419.93,92.73 420.05,92.75 420.18,92.77 420.31,92.79 420.44,92.81 420.56,92.83 420.69,92.85 420.82,92.87 420.95,92.89 421.07,92.91 421.20,92.93 421.33,92.95 421.46,92.97 421.58,92.99 421.71,93.01 421.84,93.03 421.97,93.05 422.09,93.07 422.22,93.09 422.35,93.11 422.47,93.13 422.60,93.15 422.73,93.16 422.86,93.18 422.98,93.20 423.11,93.22 423.24,93.24 423.37,93.26 423.49,93.28 423.62,93.30 423.75,93.32 423.88,93.33 424.00,93.35 424.13,93.37 424.26,93.39 424.39,93.41 424.51,93.43 424.64,93.44 424.77,93.46 424.90,93.48 425.02,93.50 425.15,93.52 425.28,93.54 425.40,93.55 425.53,93.57 425.66,93.59 425.79,93.61 425.91,93.63 426.04,93.64 426.17,93.66 426.30,93.68 426.42,93.70 426.55,93.71 426.68,93.73 426.81,93.75 426.93,93.77 427.06,93.79 427.19,93.80 427.32,93.82 427.44,93.84 427.57,93.86 427.70,93.87 427.83,93.89 427.95,93.91 428.08,93.92 428.21,93.94 428.34,93.96 428.46,93.98 428.59,93.99 428.72,94.01 428.84,94.03 428.97,94.04 429.10,94.06 429.23,94.08 429.35,94.10 429.48,94.11 429.61,94.13 429.74,94.15 429.86,94.16 429.99,94.18 430.12,94.20 430.25,94.21 430.37,94.23 430.50,94.25 430.63,94.26 430.76,94.28 430.88,94.30 431.01,94.31 431.14,94.33 431.27,94.34 431.39,94.36 431.52,94.38 431.65,94.39 431.77,94.41 431.90,94.43 432.03,94.44 432.16,94.46 432.28,94.48 432.41,94.49 432.54,94.51 432.67,94.52 432.79,94.54 432.92,94.56 433.05,94.57 433.18,94.59 433.30,94.60 433.43,94.62 433.56,94.64 433.69,94.65 433.81,94.67 433.94,94.68 434.07,94.70 434.20,94.71 434.32,94.73 434.45,94.75 434.58,94.76 434.71,94.78 434.83,94.79 434.96,94.81 435.09,94.82 435.21,94.84 435.34,94.86 435.47,94.87 435.60,94.89 435.72,94.90 435.85,94.92 435.98,94.93 436.11,94.95 436.23,94.96 436.36,94.98 436.49,94.99 436.62,95.01 436.74,95.02 436.87,95.04 437.00,95.05 437.13,95.07 437.25,95.09 437.38,95.10 437.51,95.12 437.64,95.13 437.76,95.15 437.89,95.16 438.02,95.18 438.14,95.19 438.27,95.21 438.40,95.22 438.53,95.24 438.65,95.25 438.78,95.27 438.91,95.28 439.04,95.30 439.16,95.31 439.29,95.32 439.42,95.34 439.55,95.35 439.67,95.37 439.80,95.38 439.93,95.40 440.06,95.41 440.18,95.43 440.31,95.44 440.44,95.46 440.57,95.47 440.69,95.49 440.82,95.50 440.95,95.52 441.07,95.53 441.20,95.54 441.33,95.56 441.46,95.57 441.58,95.59 441.71,95.60 441.84,95.62 441.97,95.63 442.09,95.65 442.22,95.66 442.35,95.67 442.48,95.69 442.60,95.70 442.73,95.72 442.86,95.73 442.99,95.75 443.11,95.76 443.24,95.77 443.37,95.79 443.50,95.80 443.62,95.82 443.75,95.83 443.88,95.85 444.01,95.86 444.13,95.87 444.26,95.89 444.39,95.90 444.51,95.92 444.64,95.93 444.77,95.94 444.90,95.96 445.02,95.97 445.15,95.99 445.28,96.00 445.41,96.01 445.53,96.03 445.66,96.04 445.79,96.06 445.92,96.07 446.04,96.08 446.17,96.10 446.30,96.11 446.43,96.12 446.55,96.14 446.68,96.15 446.81,96.17 446.94,96.18 447.06,96.19 447.19,96.21 447.32,96.22 447.44,96.23 447.57,96.25 447.70,96.26 447.83,96.28 447.95,96.29 448.08,96.30 448.21,96.32 448.34,96.33 448.46,96.34 448.59,96.36 448.72,96.37 448.85,96.38 448.97,96.40 449.10,96.41 449.23,96.42 449.36,96.44 449.48,96.45 449.61,96.46 449.74,96.48 449.87,96.49 449.99,96.51 450.12,96.52 450.25,96.53 450.38,96.55 450.50,96.56 450.63,96.57 450.76,96.59 450.88,96.60 451.01,96.61 451.14,96.63 451.27,96.64 451.39,96.65 451.52,96.67 451.65,96.68 451.78,96.69 451.90,96.70 452.03,96.72 452.16,96.73 452.29,96.74 452.41,96.76 452.54,96.77 452.67,96.78 452.80,96.80 452.92,96.81 453.05,96.82 453.18,96.84 453.31,96.85 453.43,96.86 453.56,96.88 453.69,96.89 453.81,96.90 453.94,96.91 454.07,96.93 454.20,96.94 454.32,96.95 454.45,96.97 454.58,96.98 454.71,96.99 454.83,97.01 454.96,97.02 455.09,97.03 455.22,97.04 455.34,97.06 455.47,97.07 455.60,97.08 455.73,97.10 455.85,97.11 455.98,97.12 456.11,97.13 456.24,97.15 456.36,97.16 456.49,97.17 456.62,97.19 456.75,97.20 456.87,97.21 457.00,97.22" fill="none" stroke="#77AC30" stroke-width="1.45" stroke-linejoin="round"/>
<polyline points="330.36,135.60 330.49,134.52 330.62,133.46 330.75,132.53 330.87,131.83 331.00,131.30 331.13,130.82 331.26,130.38 331.38,129.98 331.51,129.60 331.64,129.26 331.77,128.94 331.89,128.65 332.02,128.36 332.15,128.09 332.28,127.82 332.40,127.56 332.53,127.29 332.66,127.02 332.79,126.74 332.91,126.44 333.04,126.13 333.17,125.79 333.29,125.43 333.42,125.06 333.55,124.68 333.68,124.29 333.80,123.90 333.93,123.50 334.06,123.09 334.19,122.68 334.31,122.27 334.44,121.85 334.57,121.44 334.70,121.02 334.82,120.61 334.95,120.19 335.08,119.78 335.21,119.38 335.33,118.98 335.46,118.58 335.59,118.20 335.72,117.82 335.84,117.45 335.97,117.09 336.10,116.74 336.22,116.41 336.35,116.09 336.48,115.78 336.61,115.49 336.73,115.22 336.86,114.95 336.99,114.69 337.12,114.43 337.24,114.17 337.37,113.92 337.50,113.67 337.63,113.42 337.75,113.18 337.88,112.94 338.01,112.70 338.14,112.46 338.26,112.23 338.39,111.99 338.52,111.77 338.65,111.54 338.77,111.32 338.90,111.10 339.03,110.88 339.16,110.67 339.28,110.46 339.41,110.25 339.54,110.05 339.66,109.84 339.79,109.65 339.92,109.45 340.05,109.26 340.17,109.07 340.30,108.88 340.43,108.70 340.56,108.51 340.68,108.34 340.81,108.16 340.94,107.99 341.07,107.82 341.19,107.65 341.32,107.49 341.45,107.33 341.58,107.17 341.70,107.02 341.83,106.87 341.96,106.72 342.09,106.58 342.21,106.44 342.34,106.30 342.47,106.16 342.59,106.03 342.72,105.90 342.85,105.78 342.98,105.66 343.10,105.54 343.23,105.42 343.36,105.30 343.49,105.19 343.61,105.08 343.74,104.97 343.87,104.86 344.00,104.75 344.12,104.65 344.25,104.55 344.38,104.45 344.51,104.35 344.63,104.25 344.76,104.16 344.89,104.06 345.02,103.97 345.14,103.88 345.27,103.79 345.40,103.70 345.53,103.61 345.65,103.53 345.78,103.44 345.91,103.36 346.03,103.27 346.16,103.19 346.29,103.11 346.42,103.03 346.54,102.94 346.67,102.86 346.80,102.78 346.93,102.70 347.05,102.63 347.18,102.55 347.31,102.47 347.44,102.39 347.56,102.31 347.69,102.23 347.82,102.15 347.95,102.08 348.07,102.00 348.20,101.92 348.33,101.84 348.46,101.76 348.58,101.68 348.71,101.60 348.84,101.52 348.96,101.44 349.09,101.36 349.22,101.28 349.35,101.20 349.47,101.13 349.60,101.06 349.73,100.99 349.86,100.93 349.98,100.86 350.11,100.80 350.24,100.73 350.37,100.67 350.49,100.61 350.62,100.55 350.75,100.50 350.88,100.44 351.00,100.38 351.13,100.32 351.26,100.27 351.39,100.21 351.51,100.15 351.64,100.10 351.77,100.04 351.90,99.98 352.02,99.92 352.15,99.86 352.28,99.80 352.40,99.74 352.53,99.67 352.66,99.61 352.79,99.54 352.91,99.47 353.04,99.40 353.17,99.33 353.30,99.25 353.42,99.17 353.55,99.09 353.68,99.01 353.81,98.92 353.93,98.83 354.06,98.74 354.19,98.64 354.32,98.54 354.44,98.44 354.57,98.33 354.70,98.22 354.83,98.10 354.95,97.98 355.08,97.85 355.21,97.71 355.33,97.53 355.46,97.33 355.59,97.09 355.72,96.83 355.84,96.53 355.97,96.17 356.10,95.73 356.23,95.22 356.35,94.65 356.48,94.01 356.61,93.33 356.74,92.59 356.86,91.82 356.99,91.01 357.12,90.18 357.25,89.32 357.37,88.45 357.50,87.48 357.63,86.35 357.76,85.10 357.88,83.80 358.01,82.49 358.14,81.23 358.27,80.07 358.39,79.06 358.52,78.15 358.65,77.25 358.77,76.39 358.90,75.57 359.03,74.82 359.16,74.14 359.28,73.56 359.41,73.08 359.54,72.67 359.67,72.28 359.79,71.92 359.92,71.58 360.05,71.27 360.18,71.00 360.30,70.75 360.43,70.54 360.56,70.37 360.69,70.23 360.81,70.12 360.94,70.00 361.07,69.90 361.20,69.80 361.32,69.71 361.45,69.63 361.58,69.56 361.70,69.49 361.83,69.44 361.96,69.41 362.09,69.38 362.21,69.38 362.34,69.39 362.47,69.42 362.60,69.48 362.72,69.55 362.85,69.63 362.98,69.72 363.11,69.81 363.23,69.90 363.36,70.01 363.49,70.15 363.62,70.30 363.74,70.47 363.87,70.64 364.00,70.81 364.13,70.96 364.25,71.09 364.38,71.21 364.51,71.32 364.63,71.43 364.76,71.53 364.89,71.63 365.02,71.73 365.14,71.82 365.27,71.92 365.40,72.01 365.53,72.10 365.65,72.20 365.78,72.29 365.91,72.39 366.04,72.49 366.16,72.58 366.29,72.68 366.42,72.77 366.55,72.87 366.67,72.96 366.80,73.06 366.93,73.15 367.06,73.24 367.18,73.33 367.31,73.43 367.44,73.52 367.57,73.61 367.69,73.70 367.82,73.79 367.95,73.88 368.07,73.97 368.20,74.06 368.33,74.14 368.46,74.23 368.58,74.32 368.71,74.41 368.84,74.49 368.97,74.58 369.09,74.66 369.22,74.75 369.35,74.83 369.48,74.92 369.60,75.00 369.73,75.09 369.86,75.17 369.99,75.25 370.11,75.33 370.24,75.42 370.37,75.50 370.50,75.58 370.62,75.66 370.75,75.74 370.88,75.82 371.00,75.90 371.13,75.98 371.26,76.06 371.39,76.13 371.51,76.21 371.64,76.29 371.77,76.37 371.90,76.44 372.02,76.52 372.15,76.60 372.28,76.67 372.41,76.75 372.53,76.82 372.66,76.90 372.79,76.97 372.92,77.05 373.04,77.12 373.17,77.19 373.30,77.27 373.43,77.34 373.55,77.41 373.68,77.48 373.81,77.56 373.94,77.63 374.06,77.70 374.19,77.77 374.32,77.84 374.44,77.91 374.57,77.98 374.70,78.05 374.83,78.12 374.95,78.19 375.08,78.25 375.21,78.32 375.34,78.39 375.46,78.46 375.59,78.52 375.72,78.59 375.85,78.66 375.97,78.72 376.10,78.79 376.23,78.85 376.36,78.92 376.48,78.98 376.61,79.05 376.74,79.11 376.87,79.18 376.99,79.24 377.12,79.30 377.25,79.37 377.38,79.43 377.50,79.49 377.63,79.56 377.76,79.62 377.88,79.68 378.01,79.74 378.14,79.80 378.27,79.86 378.39,79.92 378.52,79.98 378.65,80.04 378.78,80.10 378.90,80.16 379.03,80.22 379.16,80.28 379.29,80.34 379.41,80.40 379.54,80.46 379.67,80.51 379.80,80.57 379.92,80.63 380.05,80.69 380.18,80.74 380.31,80.80 380.43,80.85 380.56,80.91 380.69,80.97 380.81,81.02 380.94,81.08 381.07,81.13 381.20,81.19 381.32,81.24 381.45,81.30 381.58,81.35 381.71,81.40 381.83,81.46 381.96,81.51 382.09,81.56 382.22,81.62 382.34,81.67 382.47,81.72 382.60,81.77 382.73,81.83 382.85,81.88 382.98,81.93 383.11,81.98 383.24,82.03 383.36,82.08 383.49,82.13 383.62,82.18 383.75,82.23 383.87,82.28 384.00,82.33 384.13,82.38 384.25,82.43 384.38,82.48 384.51,82.53 384.64,82.58 384.76,82.63 384.89,82.68 385.02,82.72 385.15,82.77 385.27,82.82 385.40,82.87 385.53,82.91 385.66,82.96 385.78,83.01 385.91,83.05 386.04,83.10 386.17,83.15 386.29,83.19 386.42,83.24 386.55,83.29 386.68,83.33 386.80,83.38 386.93,83.42 387.06,83.47 387.18,83.51 387.31,83.56 387.44,83.60 387.57,83.64 387.69,83.69 387.82,83.73 387.95,83.77 388.08,83.82 388.20,83.86 388.33,83.90 388.46,83.95 388.59,83.99 388.71,84.03 388.84,84.07 388.97,84.12 389.10,84.16 389.22,84.20 389.35,84.24 389.48,84.28 389.61,84.33 389.73,84.37 389.86,84.41 389.99,84.45 390.12,84.49 390.24,84.53 390.37,84.57 390.50,84.61 390.62,84.65 390.75,84.69 390.88,84.73 391.01,84.77 391.13,84.81 391.26,84.85 391.39,84.89 391.52,84.93 391.64,84.96 391.77,85.00 391.90,85.04 392.03,85.08 392.15,85.12 392.28,85.16 392.41,85.19 392.54,85.23 392.66,85.27 392.79,85.31 392.92,85.34 393.05,85.38 393.17,85.42 393.30,85.45 393.43,85.49 393.55,85.53 393.68,85.56 393.81,85.60 393.94,85.64 394.06,85.67 394.19,85.71 394.32,85.74 394.45,85.78 394.57,85.81 394.70,85.85 394.83,85.88 394.96,85.92 395.08,85.95 395.21,85.99 395.34,86.02 395.47,86.06 395.59,86.09 395.72,86.13 395.85,86.16 395.98,86.19 396.10,86.23 396.23,86.26 396.36,86.30 396.49,86.33 396.61,86.36 396.74,86.40 396.87,86.43 396.99,86.46 397.12,86.49 397.25,86.53 397.38,86.56 397.50,86.59 397.63,86.62 397.76,86.66 397.89,86.69 398.01,86.72 398.14,86.75 398.27,86.78 398.40,86.82 398.52,86.85 398.65,86.88 398.78,86.91 398.91,86.94 399.03,86.97 399.16,87.00 399.29,87.03 399.42,87.06 399.54,87.10 399.67,87.13 399.80,87.16 399.92,87.19 400.05,87.22 400.18,87.25 400.31,87.28 400.43,87.31 400.56,87.34 400.69,87.37 400.82,87.40 400.94,87.43 401.07,87.45 401.20,87.48 401.33,87.51 401.45,87.54 401.58,87.57 401.71,87.60 401.84,87.63 401.96,87.66 402.09,87.69 402.22,87.71 402.35,87.74 402.47,87.77 402.60,87.80 402.73,87.83 402.86,87.86 402.98,87.88 403.11,87.91 403.24,87.94 403.36,87.97 403.49,87.99 403.62,88.02 403.75,88.05 403.87,88.08 404.00,88.10 404.13,88.13 404.26,88.16 404.38,88.18 404.51,88.21 404.64,88.24 404.77,88.26 404.89,88.29 405.02,88.32 405.15,88.34 405.28,88.37 405.40,88.40 405.53,88.42 405.66,88.45 405.79,88.47 405.91,88.50 406.04,88.53 406.17,88.55 406.29,88.58 406.42,88.60 406.55,88.63 406.68,88.65 406.80,88.68 406.93,88.70 407.06,88.73 407.19,88.75 407.31,88.78 407.44,88.80 407.57,88.83 407.70,88.85 407.82,88.88 407.95,88.90 408.08,88.93 408.21,88.95 408.33,88.98 408.46,89.00 408.59,89.02 408.72,89.05 408.84,89.07 408.97,89.10 409.10,89.12 409.23,89.14 409.35,89.17 409.48,89.19 409.61,89.21 409.73,89.24 409.86,89.26 409.99,89.29 410.12,89.31 410.24,89.33 410.37,89.36 410.50,89.38 410.63,89.40 410.75,89.42 410.88,89.45 411.01,89.47 411.14,89.49 411.26,89.52 411.39,89.54 411.52,89.56 411.65,89.58 411.77,89.61 411.90,89.63 412.03,89.65 412.16,89.67 412.28,89.70 412.41,89.72 412.54,89.74 412.66,89.76 412.79,89.78 412.92,89.81 413.05,89.83 413.17,89.85 413.30,89.87 413.43,89.89 413.56,89.91 413.68,89.94 413.81,89.96 413.94,89.98 414.07,90.00 414.19,90.02 414.32,90.04 414.45,90.06 414.58,90.08 414.70,90.11 414.83,90.13 414.96,90.15 415.09,90.17 415.21,90.19 415.34,90.21 415.47,90.23 415.60,90.25 415.72,90.27 415.85,90.29 415.98,90.31 416.10,90.33 416.23,90.35 416.36,90.38 416.49,90.40 416.61,90.42 416.74,90.44 416.87,90.46 417.00,90.48 417.12,90.50 417.25,90.52 417.38,90.54 417.51,90.56 417.63,90.58 417.76,90.60 417.89,90.62 418.02,90.64 418.14,90.65 418.27,90.67 418.40,90.69 418.53,90.71 418.65,90.73 418.78,90.75 418.91,90.77 419.03,90.79 419.16,90.81 419.29,90.83 419.42,90.85 419.54,90.87 419.67,90.89 419.80,90.91 419.93,90.92 420.05,90.94 420.18,90.96 420.31,90.98 420.44,91.00 420.56,91.02 420.69,91.04 420.82,91.06 420.95,91.08 421.07,91.09 421.20,91.11 421.33,91.13 421.46,91.15 421.58,91.17 421.71,91.19 421.84,91.20 421.97,91.22 422.09,91.24 422.22,91.26 422.35,91.28 422.47,91.30 422.60,91.31 422.73,91.33 422.86,91.35 422.98,91.37 423.11,91.39 423.24,91.40 423.37,91.42 423.49,91.44 423.62,91.46 423.75,91.47 423.88,91.49 424.00,91.51 424.13,91.53 424.26,91.55 424.39,91.56 424.51,91.58 424.64,91.60 424.77,91.62 424.90,91.63 425.02,91.65 425.15,91.67 425.28,91.68 425.40,91.70 425.53,91.72 425.66,91.74 425.79,91.75 425.91,91.77 426.04,91.79 426.17,91.80 426.30,91.82 426.42,91.84 426.55,91.86 426.68,91.87 426.81,91.89 426.93,91.91 427.06,91.92 427.19,91.94 427.32,91.96 427.44,91.97 427.57,91.99 427.70,92.01 427.83,92.02 427.95,92.04 428.08,92.06 428.21,92.07 428.34,92.09 428.46,92.10 428.59,92.12 428.72,92.14 428.84,92.15 428.97,92.17 429.10,92.19 429.23,92.20 429.35,92.22 429.48,92.24 429.61,92.25 429.74,92.27 429.86,92.28 429.99,92.30 430.12,92.32 430.25,92.33 430.37,92.35 430.50,92.36 430.63,92.38 430.76,92.40 430.88,92.41 431.01,92.43 431.14,92.44 431.27,92.46 431.39,92.47 431.52,92.49 431.65,92.51 431.77,92.52 431.90,92.54 432.03,92.55 432.16,92.57 432.28,92.58 432.41,92.60 432.54,92.61 432.67,92.63 432.79,92.65 432.92,92.66 433.05,92.68 433.18,92.69 433.30,92.71 433.43,92.72 433.56,92.74 433.69,92.75 433.81,92.77 433.94,92.78 434.07,92.80 434.20,92.81 434.32,92.83 434.45,92.84 434.58,92.86 434.71,92.87 434.83,92.89 434.96,92.90 435.09,92.92 435.21,92.93 435.34,92.95 435.47,92.96 435.60,92.98 435.72,92.99 435.85,93.01 435.98,93.02 436.11,93.04 436.23,93.05 436.36,93.07 436.49,93.08 436.62,93.10 436.74,93.11 436.87,93.12 437.00,93.14 437.13,93.15 437.25,93.17 437.38,93.18 437.51,93.20 437.64,93.21 437.76,93.23 437.89,93.24 438.02,93.26 438.14,93.27 438.27,93.28 438.40,93.30 438.53,93.31 438.65,93.33 438.78,93.34 438.91,93.36 439.04,93.37 439.16,93.38 439.29,93.40 439.42,93.41 439.55,93.43 439.67,93.44 439.80,93.46 439.93,93.47 440.06,93.48 440.18,93.50 440.31,93.51 440.44,93.53 440.57,93.54 440.69,93.55 440.82,93.57 440.95,93.58 441.07,93.60 441.20,93.61 441.33,93.62 441.46,93.64 441.58,93.65 441.71,93.66 441.84,93.68 441.97,93.69 442.09,93.71 442.22,93.72 442.35,93.73 442.48,93.75 442.60,93.76 442.73,93.77 442.86,93.79 442.99,93.80 443.11,93.82 443.24,93.83 443.37,93.84 443.50,93.86 443.62,93.87 443.75,93.88 443.88,93.90 444.01,93.91 444.13,93.92 444.26,93.94 444.39,93.95 444.51,93.96 444.64,93.98 444.77,93.99 444.90,94.00 445.02,94.02 445.15,94.03 445.28,94.04 445.41,94.06 445.53,94.07 445.66,94.08 445.79,94.10 445.92,94.11 446.04,94.12 446.17,94.14 446.30,94.15 446.43,94.16 446.55,94.18 446.68,94.19 446.81,94.20 446.94,94.22 447.06,94.23 447.19,94.24 447.32,94.26 447.44,94.27 447.57,94.28 447.70,94.30 447.83,94.31 447.95,94.32 448.08,94.33 448.21,94.35 448.34,94.36 448.46,94.37 448.59,94.39 448.72,94.40 448.85,94.41 448.97,94.42 449.10,94.44 449.23,94.45 449.36,94.46 449.48,94.48 449.61,94.49 449.74,94.50 449.87,94.51 449.99,94.53 450.12,94.54 450.25,94.55 450.38,94.57 450.50,94.58 450.63,94.59 450.76,94.60 450.88,94.62 451.01,94.63 451.14,94.64 451.27,94.65 451.39,94.67 451.52,94.68 451.65,94.69 451.78,94.70 451.90,94.72 452.03,94.73 452.16,94.74 452.29,94.75 452.41,94.77 452.54,94.78 452.67,94.79 452.80,94.80 452.92,94.82 453.05,94.83 453.18,94.84 453.31,94.85 453.43,94.87 453.56,94.88 453.69,94.89 453.81,94.90 453.94,94.92 454.07,94.93 454.20,94.94 454.32,94.95 454.45,94.97 454.58,94.98 454.71,94.99 454.83,95.00 454.96,95.01 455.09,95.03 455.22,95.04 455.34,95.05 455.47,95.06 455.60,95.08 455.73,95.09 455.85,95.10 455.98,95.11 456.11,95.12 456.24,95.14 456.36,95.15 456.49,95.16 456.62,95.17 456.75,95.19 456.87,95.20 457.00,95.21" fill="none" stroke="#4DBEEE" stroke-width="1.45" stroke-linejoin="round"/>
<polyline points="329.60,135.60 330.11,135.59 330.62,135.59 331.13,135.58 331.64,135.57 332.15,135.56 332.66,135.55 333.17,135.55 333.68,135.54 334.19,135.53 334.70,135.52 335.21,135.51 335.72,135.50 336.22,135.50 336.73,135.49 337.24,135.48 337.75,135.47 338.26,135.46 338.77,135.45 339.28,135.44 339.79,135.43 340.30,135.42 340.81,135.41 341.32,135.40 341.83,135.39 342.34,135.38 342.85,135.37 343.36,135.36 343.87,135.35 344.38,135.34 344.89,135.33 345.40,135.32 345.91,135.31 346.42,135.31 346.93,135.30 347.44,135.29 347.95,135.28 348.46,135.27 348.96,135.26 349.47,135.25 349.98,135.24 350.49,135.22 351.00,135.21 351.51,135.20 352.02,135.18 352.53,135.17 353.04,135.15 353.55,135.13 354.06,135.11 354.57,135.09 355.08,135.07 355.59,135.04 356.10,134.99 356.61,134.94 357.12,134.87 357.63,134.80 358.14,134.71 358.65,134.62 359.16,134.52 359.67,134.41 360.18,134.29 360.69,134.17 361.20,134.04 361.70,133.91 362.21,133.78 362.72,133.64 363.23,133.51 363.74,133.37 364.25,133.24 364.76,133.11 365.27,132.98 365.78,132.86 366.29,132.74 366.80,132.63 367.31,132.52 367.82,132.41 368.33,132.30 368.84,132.19 369.35,132.08 369.86,131.97 370.37,131.86 370.88,131.75 371.39,131.64 371.90,131.53 372.41,131.42 372.92,131.31 373.43,131.20 373.94,131.09 374.44,130.99 374.95,130.88 375.46,130.77 375.97,130.66 376.48,130.56 376.99,130.45 377.50,130.34 378.01,130.24 378.52,130.13 379.03,130.03 379.54,129.92 380.05,129.82 380.56,129.71 381.07,129.61 381.58,129.51 382.09,129.40 382.60,129.30 383.11,129.20 383.62,129.10 384.13,128.99 384.64,128.89 385.15,128.79 385.66,128.69 386.17,128.59 386.68,128.50 387.18,128.40 387.69,128.30 388.20,128.20 388.71,128.10 389.22,128.01 389.73,127.91 390.24,127.81 390.75,127.72 391.26,127.62 391.77,127.52 392.28,127.43 392.79,127.33 393.30,127.23 393.81,127.14 394.32,127.04 394.83,126.95 395.34,126.85 395.85,126.75 396.36,126.66 396.87,126.56 397.38,126.46 397.89,126.36 398.40,126.27 398.91,126.17 399.42,126.07 399.92,125.97 400.43,125.87 400.94,125.77 401.45,125.67 401.96,125.57 402.47,125.47 402.98,125.37 403.49,125.27 404.00,125.17 404.51,125.07 405.02,124.96 405.53,124.86 406.04,124.76 406.55,124.66 407.06,124.56 407.57,124.46 408.08,124.35 408.59,124.25 409.10,124.15 409.61,124.05 410.12,123.95 410.63,123.85 411.14,123.75 411.65,123.65 412.16,123.55 412.66,123.45 413.17,123.35 413.68,123.25 414.19,123.15 414.70,123.05 415.21,122.95 415.72,122.85 416.23,122.76 416.74,122.66 417.25,122.56 417.76,122.46 418.27,122.36 418.78,122.26 419.29,122.16 419.80,122.06 420.31,121.96 420.82,121.86 421.33,121.77 421.84,121.67 422.35,121.58 422.86,121.49 423.37,121.41 423.88,121.32 424.39,121.24 424.90,121.17 425.40,121.10 425.91,121.03 426.42,120.96 426.93,120.89 427.44,120.82 427.95,120.76 428.46,120.69 428.97,120.63 429.48,120.57 429.99,120.51 430.50,120.46 431.01,120.40 431.52,120.35 432.03,120.29 432.54,120.24 433.05,120.19 433.56,120.14 434.07,120.09 434.58,120.04 435.09,119.99 435.60,119.95 436.11,119.90 436.62,119.85 437.13,119.81 437.64,119.76 438.14,119.72 438.65,119.67 439.16,119.63 439.67,119.60 440.18,119.56 440.69,119.52 441.20,119.49 441.71,119.46 442.22,119.43 442.73,119.41 443.24,119.39 443.75,119.36 444.26,119.34 444.77,119.32 445.28,119.30 445.79,119.28 446.30,119.26 446.81,119.24 447.32,119.22 447.83,119.20 448.34,119.18 448.85,119.16 449.36,119.14 449.87,119.13 450.38,119.11 450.88,119.10 451.39,119.08 451.90,119.07 452.41,119.06 452.92,119.04 453.43,119.03 453.94,119.03 454.45,119.02 454.96,119.01 455.47,119.01 455.98,119.00 456.49,119.00 457.00,119.00" fill="none" stroke="#0072BD" stroke-width="1.45"/>
<path d="M304.1,188.30 H316.8" stroke="#0072BD" stroke-width="1.6"/>
<text x="318.0" y="192.60000000000002" font-size="12.1" font-weight="normal" text-anchor="start" fill="#111" letter-spacing="0.1">AR = 1</text>
<path d="M304.1,203.15 H316.8" stroke="#D95319" stroke-width="1.6"/>
<text x="318.0" y="207.45000000000002" font-size="12.1" font-weight="normal" text-anchor="start" fill="#111" letter-spacing="0.1">AR = 2</text>
<path d="M304.1,218.00 H316.8" stroke="#EDB120" stroke-width="1.6"/>
<text x="318.0" y="222.3" font-size="12.1" font-weight="normal" text-anchor="start" fill="#111" letter-spacing="0.1">AR = 4</text>
<path d="M304.1,232.85 H316.8" stroke="#7E2F8E" stroke-width="1.6"/>
<text x="318.0" y="237.15000000000003" font-size="12.1" font-weight="normal" text-anchor="start" fill="#111" letter-spacing="0.1">AR = 6</text>
<path d="M304.1,247.70 H316.8" stroke="#77AC30" stroke-width="1.6"/>
<text x="318.0" y="252.00000000000003" font-size="12.1" font-weight="normal" text-anchor="start" fill="#111" letter-spacing="0.1">AR = 8</text>
<path d="M304.1,262.55 H316.8" stroke="#4DBEEE" stroke-width="1.6"/>
<text x="318.0" y="266.85" font-size="12.1" font-weight="normal" text-anchor="start" fill="#111" letter-spacing="0.1">AR = 10</text>
<text x="502.7" y="40.6" font-size="10.52" font-weight="bold" text-anchor="start" fill="#000" >3D - Cytosolic Calcium - AUC</text>
<text x="648.0" y="41.2" font-size="8" font-weight="normal" text-anchor="start" fill="#262626" >×</text>
<text x="654.0" y="41.5" font-size="9.2" font-weight="normal" text-anchor="start" fill="#262626" >10</text>
<text x="664.6" y="37.5" font-size="6.4" font-weight="normal" text-anchor="start" fill="#262626" >9</text>
<rect x="514.10" y="44.40" width="21.68" height="24.45" fill="#1f968b"/>
<rect x="534.78" y="44.40" width="21.68" height="24.45" fill="#37b679"/>
<rect x="555.46" y="44.40" width="21.68" height="24.45" fill="#37b679"/>
<rect x="576.14" y="44.40" width="21.68" height="24.45" fill="#5ebf63"/>
<rect x="596.82" y="44.40" width="21.68" height="24.45" fill="#7ac356"/>
<rect x="617.50" y="44.40" width="20.68" height="24.45" fill="#f3e51f"/>
<rect x="514.10" y="67.85" width="21.68" height="24.45" fill="#31688e"/>
<rect x="534.78" y="67.85" width="21.68" height="24.45" fill="#22a985"/>
<rect x="555.46" y="67.85" width="21.68" height="24.45" fill="#22a885"/>
<rect x="576.14" y="67.85" width="21.68" height="24.45" fill="#3dbb73"/>
<rect x="596.82" y="67.85" width="21.68" height="24.45" fill="#5abf67"/>
<rect x="617.50" y="67.85" width="20.68" height="24.45" fill="#9dca44"/>
<rect x="514.10" y="91.30" width="21.68" height="24.45" fill="#433f88"/>
<rect x="534.78" y="91.30" width="21.68" height="24.45" fill="#26998a"/>
<rect x="555.46" y="91.30" width="21.68" height="24.45" fill="#25998a"/>
<rect x="576.14" y="91.30" width="21.68" height="24.45" fill="#26a883"/>
<rect x="596.82" y="91.30" width="21.68" height="24.45" fill="#29ae80"/>
<rect x="617.50" y="91.30" width="20.68" height="24.45" fill="#34b67a"/>
<rect x="514.10" y="114.75" width="21.68" height="23.45" fill="#4a1a60"/>
<rect x="534.78" y="114.75" width="21.68" height="23.45" fill="#3e4f8a"/>
<rect x="555.46" y="114.75" width="21.68" height="23.45" fill="#3a5a8c"/>
<rect x="576.14" y="114.75" width="21.68" height="23.45" fill="#375f8d"/>
<rect x="596.82" y="114.75" width="21.68" height="23.45" fill="#336a8e"/>
<rect x="617.50" y="114.75" width="20.68" height="23.45" fill="#2f708e"/>
<text x="511.0" y="59.725" font-size="10" font-weight="normal" text-anchor="end" fill="#262626" >20</text>
<text x="511.0" y="83.17499999999998" font-size="10" font-weight="normal" text-anchor="end" fill="#262626" >10</text>
<text x="511.0" y="106.625" font-size="10" font-weight="normal" text-anchor="end" fill="#262626" >5</text>
<text x="511.0" y="130.075" font-size="10" font-weight="normal" text-anchor="end" fill="#262626" >1</text>
<text x="522.1400000000001" y="147.6" font-size="10" font-weight="normal" text-anchor="middle" fill="#262626" >1</text>
<text x="545.12" y="147.6" font-size="10" font-weight="normal" text-anchor="middle" fill="#262626" >2</text>
<text x="565.8" y="147.6" font-size="10" font-weight="normal" text-anchor="middle" fill="#262626" >4</text>
<text x="586.48" y="147.6" font-size="10" font-weight="normal" text-anchor="middle" fill="#262626" >6</text>
<text x="607.1600000000001" y="147.6" font-size="10" font-weight="normal" text-anchor="middle" fill="#262626" >8</text>
<text x="627.84" y="147.6" font-size="10" font-weight="normal" text-anchor="middle" fill="#262626" >10</text>
<text x="576.1" y="163.7" font-size="10" font-weight="bold" text-anchor="middle" fill="#262626" >AR</text>
<text transform="translate(496.5,91.4) rotate(-90)" font-size="10.5" font-weight="bold" text-anchor="middle" fill="#262626">Amplification Factor</text>
<defs><linearGradient id="vir" x1="0" y1="0" x2="0" y2="1"><stop offset="0.00" stop-color="#fde725"/><stop offset="0.10" stop-color="#bddf26"/><stop offset="0.20" stop-color="#7ad151"/><stop offset="0.30" stop-color="#44bf70"/><stop offset="0.40" stop-color="#22a884"/><stop offset="0.50" stop-color="#21918c"/><stop offset="0.60" stop-color="#2a788e"/><stop offset="0.70" stop-color="#355f8d"/><stop offset="0.80" stop-color="#414487"/><stop offset="0.90" stop-color="#482475"/><stop offset="1.00" stop-color="#440154"/></linearGradient></defs>
<rect x="641.2" y="44.9" width="4.9" height="92.9" fill="url(#vir)"/>
<text x="648.6" y="49.2" font-size="10" font-weight="normal" text-anchor="start" fill="#262626" >6</text>
<text x="648.6" y="82.4" font-size="10" font-weight="normal" text-anchor="start" fill="#262626" >4</text>
<text x="648.6" y="115.6" font-size="10" font-weight="normal" text-anchor="start" fill="#262626" >2</text>
<text x="400.3" y="227.3" font-size="10.2" font-weight="bold" text-anchor="start" fill="#000" >t = 125 s</text>
<text x="500.6" y="219.7" font-size="10.2" font-weight="bold" text-anchor="start" fill="#000" >AR = 1</text>
<text x="499.2" y="246.3" font-size="10.2" font-weight="bold" text-anchor="start" fill="#000" >AR = 10</text>
<rect x="547.6" y="193.8" width="53.5" height="52.7" fill="#464646"/>
<circle cx="574.8" cy="220.15" r="22.2" fill="none" stroke="#8e8e9c" stroke-width="2.9"/>
<circle cx="574.8" cy="220.15" r="22.2" fill="none" stroke="#2f2fa6" stroke-width="1.4"/>
<circle cx="574.35" cy="220.35" r="7.0" fill="none" stroke="#b0b0b0" stroke-width="0.8"/>
<rect x="387.1" y="252.8" width="214" height="25.8" fill="#464646"/>
<ellipse cx="493.25" cy="265.9" rx="98.2" ry="9.2" fill="none" stroke="#a89e9a" stroke-width="1.3"/>
<polyline points="464.00,257.12 467.05,257.03 470.11,256.96 473.16,256.89 476.21,256.84 479.26,256.79 482.32,256.76 485.37,256.73 488.42,256.71 491.47,256.70 494.53,256.70 497.58,256.71 500.63,256.73 503.68,256.75 506.74,256.79 509.79,256.83 512.84,256.88 515.89,256.95 518.95,257.02 522.00,257.10" fill="none" stroke="#cfb262" stroke-width="1.35"/>
<polyline points="464.00,274.68 467.05,274.77 470.11,274.84 473.16,274.91 476.21,274.96 479.26,275.01 482.32,275.04 485.37,275.07 488.42,275.09 491.47,275.10 494.53,275.10 497.58,275.09 500.63,275.07 503.68,275.05 506.74,275.01 509.79,274.97 512.84,274.92 515.89,274.85 518.95,274.78 522.00,274.70" fill="none" stroke="#cfb262" stroke-width="1.35"/>
<polyline points="443.00,273.80 444.11,273.87 445.21,273.92 446.32,273.98 447.42,274.04 448.53,274.09 449.63,274.14 450.74,274.19 451.84,274.24 452.95,274.29 454.05,274.34 455.16,274.38 456.26,274.42 457.37,274.46 458.47,274.50 459.58,274.54 460.68,274.58 461.79,274.62 462.89,274.65 464.00,274.68" fill="none" stroke="#b4a486" stroke-width="1.35"/>
<polyline points="522.00,274.70 523.11,274.66 524.21,274.63 525.32,274.60 526.42,274.56 527.53,274.52 528.63,274.48 529.74,274.44 530.84,274.40 531.95,274.36 533.05,274.31 534.16,274.26 535.26,274.22 536.37,274.17 537.47,274.11 538.58,274.06 539.68,274.01 540.79,273.95 541.89,273.89 543.00,273.83" fill="none" stroke="#b4a486" stroke-width="1.35"/>
<polyline points="434.50,258.53 434.95,258.50 435.39,258.47 435.84,258.44 436.29,258.41 436.74,258.38 437.18,258.35 437.63,258.32 438.08,258.29 438.53,258.26 438.97,258.23 439.42,258.21 439.87,258.18 440.32,258.15 440.76,258.12 441.21,258.10 441.66,258.07 442.11,258.05 442.55,258.02 443.00,258.00" fill="none" stroke="#dc9a3a" stroke-width="1.35"/>
<polyline points="446.50,257.81 447.16,257.78 447.82,257.74 448.47,257.71 449.13,257.68 449.79,257.65 450.45,257.62 451.11,257.59 451.76,257.56 452.42,257.53 453.08,257.50 453.74,257.48 454.39,257.45 455.05,257.42 455.71,257.40 456.37,257.37 457.03,257.35 457.68,257.32 458.34,257.30 459.00,257.28" fill="none" stroke="#dc9a3a" stroke-width="1.35"/>
<polyline points="528.00,257.30 528.63,257.32 529.26,257.34 529.89,257.36 530.53,257.39 531.16,257.41 531.79,257.44 532.42,257.46 533.05,257.49 533.68,257.52 534.32,257.54 534.95,257.57 535.58,257.60 536.21,257.63 536.84,257.66 537.47,257.69 538.11,257.72 538.74,257.75 539.37,257.78 540.00,257.81" fill="none" stroke="#dc9a3a" stroke-width="1.35"/>
<polyline points="543.50,258.00 543.95,258.02 544.39,258.05 544.84,258.07 545.29,258.10 545.74,258.12 546.18,258.15 546.63,258.18 547.08,258.21 547.53,258.23 547.97,258.26 548.42,258.29 548.87,258.32 549.32,258.35 549.76,258.38 550.21,258.41 550.66,258.44 551.11,258.47 551.55,258.50 552.00,258.53" fill="none" stroke="#dc9a3a" stroke-width="1.35"/>
<polyline points="428.00,272.78 428.79,272.84 429.58,272.90 430.37,272.97 431.16,273.03 431.95,273.09 432.74,273.15 433.53,273.20 434.32,273.26 435.11,273.31 435.89,273.37 436.68,273.42 437.47,273.47 438.26,273.52 439.05,273.57 439.84,273.62 440.63,273.67 441.42,273.71 442.21,273.76 443.00,273.80" fill="none" stroke="#d48e44" stroke-width="1.35"/>
<polyline points="543.50,273.80 543.95,273.78 544.39,273.75 544.84,273.73 545.29,273.70 545.74,273.68 546.18,273.65 546.63,273.62 547.08,273.59 547.53,273.57 547.97,273.54 548.42,273.51 548.87,273.48 549.32,273.45 549.76,273.42 550.21,273.39 550.66,273.36 551.11,273.33 551.55,273.30 552.00,273.27" fill="none" stroke="#d48e44" stroke-width="1.35"/>
<polyline points="425.00,272.51 425.16,272.53 425.32,272.54 425.47,272.56 425.63,272.57 425.79,272.59 425.95,272.60 426.11,272.61 426.26,272.63 426.42,272.64 426.58,272.65 426.74,272.67 426.89,272.68 427.05,272.70 427.21,272.71 427.37,272.72 427.53,272.74 427.68,272.75 427.84,272.76 428.00,272.78" fill="none" stroke="#e0704a" stroke-width="1.35"/>
<polyline points="555.00,273.05 555.26,273.03 555.53,273.01 555.79,272.99 556.05,272.97 556.32,272.95 556.58,272.93 556.84,272.91 557.11,272.89 557.37,272.87 557.63,272.85 557.89,272.83 558.16,272.80 558.42,272.78 558.68,272.76 558.95,272.74 559.21,272.72 559.47,272.69 559.74,272.67 560.00,272.65" fill="none" stroke="#e0704a" stroke-width="1.35"/>
<circle cx="396" cy="264.62" r="0.8" fill="#d8505a"/>
<circle cx="399" cy="263.32" r="0.8" fill="#d8505a"/>
<circle cx="403" cy="262.27" r="0.8" fill="#d8505a"/>
<circle cx="407" cy="261.50" r="0.8" fill="#d8505a"/>
<circle cx="412" cy="260.73" r="0.8" fill="#d8505a"/>
<circle cx="418" cy="259.99" r="0.8" fill="#d8505a"/>
<circle cx="424" cy="259.38" r="0.8" fill="#d8505a"/>
<circle cx="430" cy="258.86" r="0.8" fill="#d8505a"/>
<circle cx="397" cy="267.72" r="0.8" fill="#d8505a"/>
<circle cx="401" cy="269.05" r="0.8" fill="#d8505a"/>
<circle cx="405" cy="269.94" r="0.8" fill="#d8505a"/>
<circle cx="410" cy="270.78" r="0.8" fill="#d8505a"/>
<circle cx="415" cy="271.46" r="0.8" fill="#d8505a"/>
<circle cx="420" cy="272.03" r="0.8" fill="#d8505a"/>
<circle cx="590.5" cy="264.62" r="0.8" fill="#d8505a"/>
<circle cx="587" cy="263.16" r="0.8" fill="#d8505a"/>
<circle cx="583" cy="262.17" r="0.8" fill="#d8505a"/>
<circle cx="578" cy="261.25" r="0.8" fill="#d8505a"/>
<circle cx="572" cy="260.40" r="0.8" fill="#d8505a"/>
<circle cx="566" cy="259.72" r="0.8" fill="#d8505a"/>
<circle cx="560" cy="259.15" r="0.8" fill="#d8505a"/>
<circle cx="590" cy="267.48" r="0.8" fill="#d8505a"/>
<circle cx="586" cy="268.92" r="0.8" fill="#d8505a"/>
<circle cx="581" cy="270.03" r="0.8" fill="#d8505a"/>
<circle cx="576" cy="270.85" r="0.8" fill="#d8505a"/>
<circle cx="570" cy="271.64" r="0.8" fill="#d8505a"/>
<circle cx="564" cy="272.28" r="0.8" fill="#d8505a"/>
<circle cx="395.65000000000003" cy="265.9" r="1.1" fill="#e02030"/>
<circle cx="590.85" cy="265.9" r="1.1" fill="#e02030"/>
<ellipse cx="493.2" cy="265.85" rx="12.9" ry="6.35" fill="none" stroke="#b0b0b0" stroke-width="0.8"/>
<defs><linearGradient id="jet" x1="0" y1="0" x2="0" y2="1"><stop offset="0" stop-color="#e02226"/><stop offset="0.1" stop-color="#ee6a24"/><stop offset="0.25" stop-color="#e8d628"/><stop offset="0.5" stop-color="#52b448"/><stop offset="0.68" stop-color="#2ab4e6"/><stop offset="0.82" stop-color="#2a62c0"/><stop offset="1" stop-color="#242a88"/></linearGradient></defs>
<rect x="605.7" y="183.5" width="8.1" height="103" fill="url(#jet)" stroke="#111" stroke-width="1"/>
<text x="601.6" y="179.3" font-size="9.95" font-weight="bold" text-anchor="start" fill="#000" >[μM]</text>
<text x="617.4" y="188.6" font-size="10.1" font-weight="bold" text-anchor="start" fill="#000" letter-spacing="0.2">1.705</text>
<text x="620.7" y="277.7" font-size="10.2" font-weight="bold" text-anchor="start" fill="#000" letter-spacing="0.17">0.04776</text></svg>
</body></html>
